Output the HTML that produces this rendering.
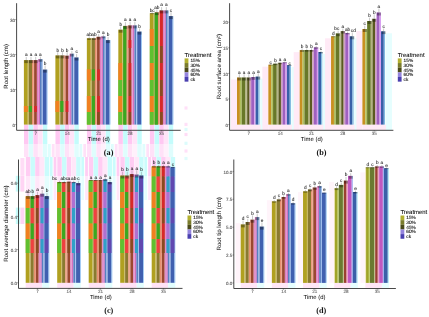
<!DOCTYPE html>
<html><head><meta charset="utf-8"><style>
html,body{margin:0;padding:0;background:#fff;width:429px;height:317px;overflow:hidden}
svg{display:block;filter:blur(0.35px)}
text{font-family:"Liberation Sans", sans-serif;text-rendering:geometricPrecision}
</style></head><body>
<svg width="429" height="317" viewBox="0 0 429 317">
<rect width="429" height="317" fill="#fff"/>
<rect x="24" y="124.6" width="4.42" height="19.4" fill="#ffc8f2" fill-opacity="1.0"/>
<rect x="28.72" y="124.6" width="4.42" height="19.4" fill="#c4fcfc" fill-opacity="1.0"/>
<rect x="33.44" y="124.6" width="4.42" height="19.4" fill="#ffc8f2" fill-opacity="1.0"/>
<rect x="38.16" y="124.6" width="4.42" height="19.4" fill="#ffe4f8" fill-opacity="1.0"/>
<rect x="42.88" y="124.6" width="4.42" height="19.4" fill="#c4fcfc" fill-opacity="1.0"/>
<rect x="55.48" y="124.6" width="4.42" height="19.4" fill="#ffc8f2" fill-opacity="1.0"/>
<rect x="60.2" y="124.6" width="4.42" height="19.4" fill="#c4fcfc" fill-opacity="1.0"/>
<rect x="64.91" y="124.6" width="4.42" height="19.4" fill="#ffc8f2" fill-opacity="1.0"/>
<rect x="69.63" y="124.6" width="4.42" height="19.4" fill="#ffe4f8" fill-opacity="1.0"/>
<rect x="74.35" y="124.6" width="4.42" height="19.4" fill="#c4fcfc" fill-opacity="1.0"/>
<rect x="86.95" y="124.6" width="4.42" height="19.4" fill="#ffc8f2" fill-opacity="1.0"/>
<rect x="91.67" y="124.6" width="4.42" height="19.4" fill="#c4fcfc" fill-opacity="1.0"/>
<rect x="96.39" y="124.6" width="4.42" height="19.4" fill="#ffc8f2" fill-opacity="1.0"/>
<rect x="101.11" y="124.6" width="4.42" height="19.4" fill="#ffe4f8" fill-opacity="1.0"/>
<rect x="105.83" y="124.6" width="4.42" height="19.4" fill="#c4fcfc" fill-opacity="1.0"/>
<rect x="118.43" y="124.6" width="4.42" height="19.4" fill="#ffc8f2" fill-opacity="1.0"/>
<rect x="123.15" y="124.6" width="4.42" height="19.4" fill="#c4fcfc" fill-opacity="1.0"/>
<rect x="127.87" y="124.6" width="4.42" height="19.4" fill="#ffc8f2" fill-opacity="1.0"/>
<rect x="132.59" y="124.6" width="4.42" height="19.4" fill="#ffe4f8" fill-opacity="1.0"/>
<rect x="137.31" y="124.6" width="4.42" height="19.4" fill="#c4fcfc" fill-opacity="1.0"/>
<rect x="149.9" y="124.6" width="4.42" height="19.4" fill="#ffc8f2" fill-opacity="1.0"/>
<rect x="154.62" y="124.6" width="4.42" height="19.4" fill="#c4fcfc" fill-opacity="1.0"/>
<rect x="159.34" y="124.6" width="4.42" height="19.4" fill="#ffc8f2" fill-opacity="1.0"/>
<rect x="164.06" y="124.6" width="4.42" height="19.4" fill="#ffe4f8" fill-opacity="1.0"/>
<rect x="168.78" y="124.6" width="4.42" height="19.4" fill="#c4fcfc" fill-opacity="1.0"/>
<rect x="24" y="144" width="4.42" height="13" fill="#ffc8f2" fill-opacity="0.55"/>
<rect x="28.72" y="144" width="4.42" height="13" fill="#c4fcfc" fill-opacity="0.55"/>
<rect x="33.44" y="144" width="4.42" height="13" fill="#ffc8f2" fill-opacity="0.55"/>
<rect x="38.16" y="144" width="4.42" height="13" fill="#ffe4f8" fill-opacity="0.55"/>
<rect x="42.88" y="144" width="4.42" height="13" fill="#c4fcfc" fill-opacity="0.55"/>
<rect x="48" y="144" width="2.76" height="13" fill="#c4fcfc" fill-opacity="0.55"/>
<rect x="51.83" y="144" width="2.76" height="13" fill="#ffc8f2" fill-opacity="0.55"/>
<rect x="55.48" y="144" width="4.42" height="13" fill="#ffc8f2" fill-opacity="0.55"/>
<rect x="60.2" y="144" width="4.42" height="13" fill="#c4fcfc" fill-opacity="0.55"/>
<rect x="64.91" y="144" width="4.42" height="13" fill="#ffc8f2" fill-opacity="0.55"/>
<rect x="69.63" y="144" width="4.42" height="13" fill="#ffe4f8" fill-opacity="0.55"/>
<rect x="74.35" y="144" width="4.42" height="13" fill="#c4fcfc" fill-opacity="0.55"/>
<rect x="79.47" y="144" width="2.76" height="13" fill="#c4fcfc" fill-opacity="0.55"/>
<rect x="83.31" y="144" width="2.76" height="13" fill="#ffc8f2" fill-opacity="0.55"/>
<rect x="86.95" y="144" width="4.42" height="13" fill="#ffc8f2" fill-opacity="0.55"/>
<rect x="91.67" y="144" width="4.42" height="13" fill="#c4fcfc" fill-opacity="0.55"/>
<rect x="96.39" y="144" width="4.42" height="13" fill="#ffc8f2" fill-opacity="0.55"/>
<rect x="101.11" y="144" width="4.42" height="13" fill="#ffe4f8" fill-opacity="0.55"/>
<rect x="105.83" y="144" width="4.42" height="13" fill="#c4fcfc" fill-opacity="0.55"/>
<rect x="110.95" y="144" width="2.76" height="13" fill="#c4fcfc" fill-opacity="0.55"/>
<rect x="114.78" y="144" width="2.76" height="13" fill="#ffc8f2" fill-opacity="0.55"/>
<rect x="118.43" y="144" width="4.42" height="13" fill="#ffc8f2" fill-opacity="0.55"/>
<rect x="123.15" y="144" width="4.42" height="13" fill="#c4fcfc" fill-opacity="0.55"/>
<rect x="127.87" y="144" width="4.42" height="13" fill="#ffc8f2" fill-opacity="0.55"/>
<rect x="132.59" y="144" width="4.42" height="13" fill="#ffe4f8" fill-opacity="0.55"/>
<rect x="137.31" y="144" width="4.42" height="13" fill="#c4fcfc" fill-opacity="0.55"/>
<rect x="142.43" y="144" width="2.76" height="13" fill="#c4fcfc" fill-opacity="0.55"/>
<rect x="146.26" y="144" width="2.76" height="13" fill="#ffc8f2" fill-opacity="0.55"/>
<rect x="149.9" y="144" width="4.42" height="13" fill="#ffc8f2" fill-opacity="0.55"/>
<rect x="154.62" y="144" width="4.42" height="13" fill="#c4fcfc" fill-opacity="0.55"/>
<rect x="159.34" y="144" width="4.42" height="13" fill="#ffc8f2" fill-opacity="0.55"/>
<rect x="164.06" y="144" width="4.42" height="13" fill="#ffe4f8" fill-opacity="0.55"/>
<rect x="168.78" y="144" width="4.42" height="13" fill="#c4fcfc" fill-opacity="0.55"/>
<rect x="25.8" y="157" width="4.42" height="19" fill="#ffc8f2" fill-opacity="0.9"/>
<rect x="30.52" y="157" width="4.42" height="19" fill="#c4fcfc" fill-opacity="0.9"/>
<rect x="35.24" y="157" width="4.42" height="19" fill="#ffc8f2" fill-opacity="0.9"/>
<rect x="39.96" y="157" width="4.42" height="19" fill="#ffe4f8" fill-opacity="0.9"/>
<rect x="44.68" y="157" width="4.42" height="19" fill="#c4fcfc" fill-opacity="0.9"/>
<rect x="49.8" y="157" width="2.77" height="19" fill="#c4fcfc" fill-opacity="0.9"/>
<rect x="53.64" y="157" width="2.77" height="19" fill="#ffc8f2" fill-opacity="0.9"/>
<rect x="57.3" y="157" width="4.42" height="19" fill="#ffc8f2" fill-opacity="0.9"/>
<rect x="62.02" y="157" width="4.42" height="19" fill="#c4fcfc" fill-opacity="0.9"/>
<rect x="66.74" y="157" width="4.42" height="19" fill="#ffc8f2" fill-opacity="0.9"/>
<rect x="71.46" y="157" width="4.42" height="19" fill="#ffe4f8" fill-opacity="0.9"/>
<rect x="76.18" y="157" width="4.42" height="19" fill="#c4fcfc" fill-opacity="0.9"/>
<rect x="81.3" y="157" width="2.77" height="19" fill="#c4fcfc" fill-opacity="0.9"/>
<rect x="85.14" y="157" width="2.77" height="19" fill="#ffc8f2" fill-opacity="0.9"/>
<rect x="88.8" y="157" width="4.42" height="19" fill="#ffc8f2" fill-opacity="0.9"/>
<rect x="93.52" y="157" width="4.42" height="19" fill="#c4fcfc" fill-opacity="0.9"/>
<rect x="98.24" y="157" width="4.42" height="19" fill="#ffc8f2" fill-opacity="0.9"/>
<rect x="102.96" y="157" width="4.42" height="19" fill="#ffe4f8" fill-opacity="0.9"/>
<rect x="107.68" y="157" width="4.42" height="19" fill="#c4fcfc" fill-opacity="0.9"/>
<rect x="112.8" y="157" width="2.77" height="19" fill="#c4fcfc" fill-opacity="0.9"/>
<rect x="116.64" y="157" width="2.77" height="19" fill="#ffc8f2" fill-opacity="0.9"/>
<rect x="120.3" y="157" width="4.42" height="19" fill="#ffc8f2" fill-opacity="0.9"/>
<rect x="125.02" y="157" width="4.42" height="19" fill="#c4fcfc" fill-opacity="0.9"/>
<rect x="129.74" y="157" width="4.42" height="19" fill="#ffc8f2" fill-opacity="0.9"/>
<rect x="134.46" y="157" width="4.42" height="19" fill="#ffe4f8" fill-opacity="0.9"/>
<rect x="139.18" y="157" width="4.42" height="19" fill="#c4fcfc" fill-opacity="0.9"/>
<rect x="144.3" y="157" width="2.77" height="19" fill="#c4fcfc" fill-opacity="0.9"/>
<rect x="148.15" y="157" width="2.77" height="19" fill="#ffc8f2" fill-opacity="0.9"/>
<rect x="151.8" y="157" width="4.42" height="19" fill="#ffc8f2" fill-opacity="0.9"/>
<rect x="156.52" y="157" width="4.42" height="19" fill="#c4fcfc" fill-opacity="0.9"/>
<rect x="161.24" y="157" width="4.42" height="19" fill="#ffc8f2" fill-opacity="0.9"/>
<rect x="165.96" y="157" width="4.42" height="19" fill="#ffe4f8" fill-opacity="0.9"/>
<rect x="170.68" y="157" width="4.42" height="19" fill="#c4fcfc" fill-opacity="0.9"/>
<rect x="25.8" y="176" width="4.42" height="24" fill="#ffc8f2" fill-opacity="0.45"/>
<rect x="30.52" y="176" width="4.42" height="24" fill="#c4fcfc" fill-opacity="0.45"/>
<rect x="35.24" y="176" width="4.42" height="24" fill="#ffc8f2" fill-opacity="0.45"/>
<rect x="39.96" y="176" width="4.42" height="24" fill="#ffe4f8" fill-opacity="0.45"/>
<rect x="44.68" y="176" width="4.42" height="24" fill="#c4fcfc" fill-opacity="0.45"/>
<rect x="49.8" y="176" width="2.77" height="24" fill="#c4fcfc" fill-opacity="0.45"/>
<rect x="53.64" y="176" width="2.77" height="24" fill="#ffc8f2" fill-opacity="0.45"/>
<rect x="57.3" y="176" width="4.42" height="24" fill="#ffc8f2" fill-opacity="0.45"/>
<rect x="62.02" y="176" width="4.42" height="24" fill="#c4fcfc" fill-opacity="0.45"/>
<rect x="66.74" y="176" width="4.42" height="24" fill="#ffc8f2" fill-opacity="0.45"/>
<rect x="71.46" y="176" width="4.42" height="24" fill="#ffe4f8" fill-opacity="0.45"/>
<rect x="76.18" y="176" width="4.42" height="24" fill="#c4fcfc" fill-opacity="0.45"/>
<rect x="81.3" y="176" width="2.77" height="24" fill="#c4fcfc" fill-opacity="0.45"/>
<rect x="85.14" y="176" width="2.77" height="24" fill="#ffc8f2" fill-opacity="0.45"/>
<rect x="88.8" y="176" width="4.42" height="24" fill="#ffc8f2" fill-opacity="0.45"/>
<rect x="93.52" y="176" width="4.42" height="24" fill="#c4fcfc" fill-opacity="0.45"/>
<rect x="98.24" y="176" width="4.42" height="24" fill="#ffc8f2" fill-opacity="0.45"/>
<rect x="102.96" y="176" width="4.42" height="24" fill="#ffe4f8" fill-opacity="0.45"/>
<rect x="107.68" y="176" width="4.42" height="24" fill="#c4fcfc" fill-opacity="0.45"/>
<rect x="112.8" y="176" width="2.77" height="24" fill="#c4fcfc" fill-opacity="0.45"/>
<rect x="116.64" y="176" width="2.77" height="24" fill="#ffc8f2" fill-opacity="0.45"/>
<rect x="120.3" y="176" width="4.42" height="24" fill="#ffc8f2" fill-opacity="0.45"/>
<rect x="125.02" y="176" width="4.42" height="24" fill="#c4fcfc" fill-opacity="0.45"/>
<rect x="129.74" y="176" width="4.42" height="24" fill="#ffc8f2" fill-opacity="0.45"/>
<rect x="134.46" y="176" width="4.42" height="24" fill="#ffe4f8" fill-opacity="0.45"/>
<rect x="139.18" y="176" width="4.42" height="24" fill="#c4fcfc" fill-opacity="0.45"/>
<rect x="144.3" y="176" width="2.77" height="24" fill="#c4fcfc" fill-opacity="0.45"/>
<rect x="148.15" y="176" width="2.77" height="24" fill="#ffc8f2" fill-opacity="0.45"/>
<rect x="151.8" y="176" width="4.42" height="24" fill="#ffc8f2" fill-opacity="0.45"/>
<rect x="156.52" y="176" width="4.42" height="24" fill="#c4fcfc" fill-opacity="0.45"/>
<rect x="161.24" y="176" width="4.42" height="24" fill="#ffc8f2" fill-opacity="0.45"/>
<rect x="165.96" y="176" width="4.42" height="24" fill="#ffe4f8" fill-opacity="0.45"/>
<rect x="170.68" y="176" width="4.42" height="24" fill="#c4fcfc" fill-opacity="0.45"/>
<rect x="231" y="79.5" width="6" height="50.5" fill="#ffeaf6"/>
<rect x="260.1" y="78.6" width="6.5" height="51.4" fill="#e6fefe"/>
<rect x="237" y="124.6" width="23.6" height="5.4" fill="#ffeaf6"/>
<rect x="262.35" y="66.7" width="6" height="63.3" fill="#ffeaf6"/>
<rect x="291.45" y="67.1" width="6.5" height="62.9" fill="#e6fefe"/>
<rect x="268.35" y="124.6" width="23.6" height="5.4" fill="#ffeaf6"/>
<rect x="293.7" y="52.1" width="6" height="77.9" fill="#ffeaf6"/>
<rect x="322.8" y="54" width="6.5" height="76" fill="#e6fefe"/>
<rect x="299.7" y="124.6" width="23.6" height="5.4" fill="#ffeaf6"/>
<rect x="325.05" y="38.3" width="6" height="91.7" fill="#ffeaf6"/>
<rect x="354.15" y="38.3" width="6.5" height="91.7" fill="#e6fefe"/>
<rect x="331.05" y="124.6" width="23.6" height="5.4" fill="#ffeaf6"/>
<rect x="356.4" y="31" width="6" height="99" fill="#ffeaf6"/>
<rect x="385.5" y="33.3" width="6.5" height="96.7" fill="#e6fefe"/>
<rect x="362.4" y="124.6" width="23.6" height="5.4" fill="#ffeaf6"/>
<rect x="25.7" y="282.8" width="16.52" height="5" fill="#ffe2f6"/>
<rect x="42.22" y="282.8" width="7.08" height="5" fill="#e2fefe"/>
<rect x="57.2" y="282.8" width="16.52" height="5" fill="#ffe2f6"/>
<rect x="73.72" y="282.8" width="7.08" height="5" fill="#e2fefe"/>
<rect x="88.7" y="282.8" width="16.52" height="5" fill="#ffe2f6"/>
<rect x="105.22" y="282.8" width="7.08" height="5" fill="#e2fefe"/>
<rect x="120.2" y="282.8" width="16.52" height="5" fill="#ffe2f6"/>
<rect x="136.72" y="282.8" width="7.08" height="5" fill="#e2fefe"/>
<rect x="151.7" y="282.8" width="16.52" height="5" fill="#ffe2f6"/>
<rect x="168.22" y="282.8" width="7.08" height="5" fill="#e2fefe"/>
<rect x="240.7" y="282.9" width="16.52" height="5" fill="#ffe6f6"/>
<rect x="257.22" y="282.9" width="7.08" height="5" fill="#e6fefe"/>
<rect x="235.7" y="223.1" width="5" height="59.8" fill="#fff4fa"/>
<rect x="271.87" y="282.9" width="16.52" height="5" fill="#ffe6f6"/>
<rect x="288.39" y="282.9" width="7.08" height="5" fill="#e6fefe"/>
<rect x="266.87" y="200.2" width="5" height="82.7" fill="#fff4fa"/>
<rect x="303.04" y="282.9" width="16.52" height="5" fill="#ffe6f6"/>
<rect x="319.56" y="282.9" width="7.08" height="5" fill="#e6fefe"/>
<rect x="298.04" y="192.1" width="5" height="90.8" fill="#fff4fa"/>
<rect x="334.21" y="282.9" width="16.52" height="5" fill="#ffe6f6"/>
<rect x="350.73" y="282.9" width="7.08" height="5" fill="#e6fefe"/>
<rect x="329.21" y="181.9" width="5" height="101" fill="#fff4fa"/>
<rect x="365.38" y="282.9" width="16.52" height="5" fill="#ffe6f6"/>
<rect x="381.9" y="282.9" width="7.08" height="5" fill="#e6fefe"/>
<rect x="360.38" y="172.4" width="5" height="110.5" fill="#fff4fa"/>
<rect x="184.5" y="106.4" width="3" height="3.2" fill="#ffe0f8"/>
<rect x="184.5" y="122.8" width="3" height="3.2" fill="#ffe0f8"/>
<rect x="184.5" y="127.9" width="3" height="3.2" fill="#dcfcfc"/>
<rect x="184.5" y="132.9" width="3" height="3.2" fill="#ffdcf6"/>
<rect x="184.5" y="141.7" width="3" height="3.2" fill="#dcfcfc"/>
<rect x="184.5" y="149.4" width="3" height="3.2" fill="#ffe0f8"/>
<rect x="184.5" y="156.9" width="3" height="3.2" fill="#e0fcfc"/>
<rect x="15.8" y="175.8" width="4.4" height="15.8" fill="#c8fcfa"/>
<rect x="20.4" y="175.8" width="4" height="15.8" fill="#ffd4f4"/>
<rect x="15.8" y="207.6" width="4.4" height="16.4" fill="#c8fcfa"/>
<rect x="20.4" y="207.6" width="4" height="16.4" fill="#ffd4f4"/>
<rect x="20.4" y="158" width="4" height="17.8" fill="#ffdcf6"/>
<rect x="23.9" y="60.1" width="3.9" height="64.5" fill="#b0a020"/>
<rect x="27.8" y="60.1" width="1" height="64.5" fill="#c8b860"/>
<rect x="23.9" y="106" width="3.9" height="6" fill="#f08020"/>
<rect x="24.3" y="60.1" width="3.92" height="3" fill="#000" fill-opacity="0.35"/>
<path d="M26.26 56.9V60.1" stroke="#888" stroke-width="0.45" fill="none"/>
<text x="26.26" y="56.2" font-size="4.7" text-anchor="middle" fill="#2a2a2a" stroke="#2a2a2a" stroke-width="0.1">a</text>
<rect x="28.8" y="60.1" width="3.2" height="64.5" fill="#8a7a30"/>
<rect x="32" y="60.1" width="1.34" height="64.5" fill="#e89070"/>
<rect x="28.8" y="106" width="3.2" height="6" fill="#3aa820"/>
<rect x="29.02" y="60.1" width="3.92" height="3" fill="#000" fill-opacity="0.35"/>
<path d="M30.98 56.9V60.1" stroke="#888" stroke-width="0.45" fill="none"/>
<text x="30.98" y="56.2" font-size="4.7" text-anchor="middle" fill="#2a2a2a" stroke="#2a2a2a" stroke-width="0.1">a</text>
<rect x="33.34" y="60.1" width="0.76" height="64.5" fill="#e89070"/>
<rect x="34.1" y="60.1" width="2.8" height="64.5" fill="#9a4830"/>
<rect x="36.9" y="60.1" width="1.16" height="64.5" fill="#e080c0"/>
<rect x="34.1" y="106" width="2.8" height="6" fill="#d82828"/>
<rect x="33.74" y="60.1" width="3.92" height="3" fill="#000" fill-opacity="0.35"/>
<path d="M35.7 56.9V60.1" stroke="#888" stroke-width="0.45" fill="none"/>
<text x="35.7" y="56.2" font-size="4.7" text-anchor="middle" fill="#2a2a2a" stroke="#2a2a2a" stroke-width="0.1">a</text>
<rect x="38.06" y="59.2" width="0.54" height="65.4" fill="#e080c0"/>
<rect x="38.6" y="59.2" width="1.4" height="65.4" fill="#d070c0"/>
<rect x="40" y="59.2" width="1.8" height="65.4" fill="#5880c0"/>
<rect x="41.8" y="59.2" width="0.98" height="65.4" fill="#a0c0f0"/>
<rect x="38.46" y="59.2" width="3.92" height="2.5" fill="#000" fill-opacity="0.35"/>
<path d="M40.42 56.7V59.2" stroke="#888" stroke-width="0.45" fill="none"/>
<text x="40.42" y="56" font-size="4.7" text-anchor="middle" fill="#2a2a2a" stroke="#2a2a2a" stroke-width="0.1">a</text>
<rect x="42.78" y="69.6" width="3.92" height="55" fill="#4060b0"/>
<rect x="46.7" y="69.6" width="0.8" height="55" fill="#90c0f0"/>
<rect x="43.18" y="69.6" width="3.92" height="3" fill="#000" fill-opacity="0.35"/>
<path d="M45.14 65.4V69.6" stroke="#888" stroke-width="0.45" fill="none"/>
<text x="45.14" y="64.7" font-size="4.7" text-anchor="middle" fill="#2a2a2a" stroke="#2a2a2a" stroke-width="0.1">b</text>
<rect x="55.38" y="55.4" width="3.9" height="69.2" fill="#b0a020"/>
<rect x="59.27" y="55.4" width="1" height="69.2" fill="#c8b860"/>
<rect x="55.38" y="101" width="3.9" height="11" fill="#f08020"/>
<rect x="55.77" y="55.4" width="3.92" height="3" fill="#000" fill-opacity="0.35"/>
<path d="M57.73 52.2V55.4" stroke="#888" stroke-width="0.45" fill="none"/>
<text x="57.73" y="51.5" font-size="4.7" text-anchor="middle" fill="#2a2a2a" stroke="#2a2a2a" stroke-width="0.1">b</text>
<rect x="60.27" y="55.4" width="3.2" height="69.2" fill="#8a7a30"/>
<rect x="63.48" y="55.4" width="1.34" height="69.2" fill="#e89070"/>
<rect x="60.27" y="101" width="3.2" height="11" fill="#3aa820"/>
<rect x="60.49" y="55.4" width="3.92" height="3" fill="#000" fill-opacity="0.35"/>
<path d="M62.45 52.2V55.4" stroke="#888" stroke-width="0.45" fill="none"/>
<text x="62.45" y="51.5" font-size="4.7" text-anchor="middle" fill="#2a2a2a" stroke="#2a2a2a" stroke-width="0.1">b</text>
<rect x="64.81" y="55.7" width="0.76" height="68.9" fill="#e89070"/>
<rect x="65.58" y="55.7" width="2.8" height="68.9" fill="#9a4830"/>
<rect x="68.38" y="55.7" width="1.16" height="68.9" fill="#e080c0"/>
<rect x="65.58" y="101" width="2.8" height="11" fill="#d82828"/>
<rect x="65.22" y="55.7" width="3.92" height="3" fill="#000" fill-opacity="0.35"/>
<path d="M67.17 52.2V55.7" stroke="#888" stroke-width="0.45" fill="none"/>
<text x="67.17" y="51.5" font-size="4.7" text-anchor="middle" fill="#2a2a2a" stroke="#2a2a2a" stroke-width="0.1">b</text>
<rect x="69.53" y="53.7" width="0.54" height="70.9" fill="#e080c0"/>
<rect x="70.08" y="53.7" width="1.4" height="70.9" fill="#d070c0"/>
<rect x="71.47" y="53.7" width="1.8" height="70.9" fill="#5880c0"/>
<rect x="73.28" y="53.7" width="0.98" height="70.9" fill="#a0c0f0"/>
<rect x="69.94" y="53.7" width="3.92" height="2.8" fill="#000" fill-opacity="0.35"/>
<path d="M71.89 50.9V53.7" stroke="#888" stroke-width="0.45" fill="none"/>
<text x="71.89" y="50.2" font-size="4.7" text-anchor="middle" fill="#2a2a2a" stroke="#2a2a2a" stroke-width="0.1">a</text>
<rect x="74.25" y="57.5" width="3.92" height="67.1" fill="#4060b0"/>
<rect x="78.17" y="57.5" width="0.8" height="67.1" fill="#90c0f0"/>
<rect x="74.66" y="57.5" width="3.92" height="3" fill="#000" fill-opacity="0.35"/>
<path d="M76.61 53.9V57.5" stroke="#888" stroke-width="0.45" fill="none"/>
<text x="76.61" y="53.2" font-size="4.7" text-anchor="middle" fill="#2a2a2a" stroke="#2a2a2a" stroke-width="0.1">c</text>
<rect x="86.85" y="38.2" width="3.9" height="86.4" fill="#b0a020"/>
<rect x="90.75" y="38.2" width="1" height="86.4" fill="#c8b860"/>
<rect x="86.85" y="69.3" width="3.9" height="11.2" fill="#f08020"/>
<rect x="86.85" y="96" width="3.9" height="16" fill="#f08020"/>
<rect x="86.85" y="112" width="3.9" height="12.6" fill="#60c030"/>
<rect x="87.25" y="38.2" width="3.92" height="1.8" fill="#000" fill-opacity="0.35"/>
<path d="M89.21 36.4V38.2" stroke="#888" stroke-width="0.45" fill="none"/>
<text x="89.21" y="35.7" font-size="4.7" text-anchor="middle" fill="#2a2a2a" stroke="#2a2a2a" stroke-width="0.1">ab</text>
<rect x="91.75" y="38.2" width="3.2" height="86.4" fill="#8a7a30"/>
<rect x="94.95" y="38.2" width="1.34" height="86.4" fill="#e89070"/>
<rect x="91.75" y="69.3" width="3.2" height="11.2" fill="#3aa820"/>
<rect x="91.75" y="96" width="3.2" height="16" fill="#3aa820"/>
<rect x="91.75" y="112" width="3.2" height="12.6" fill="#3aa820"/>
<rect x="91.97" y="38.2" width="3.92" height="1.8" fill="#000" fill-opacity="0.35"/>
<path d="M93.93 36.4V38.2" stroke="#888" stroke-width="0.45" fill="none"/>
<text x="93.93" y="35.7" font-size="4.7" text-anchor="middle" fill="#2a2a2a" stroke="#2a2a2a" stroke-width="0.1">ab</text>
<rect x="96.29" y="36.8" width="0.76" height="87.8" fill="#e89070"/>
<rect x="97.05" y="36.8" width="2.8" height="87.8" fill="#9a4830"/>
<rect x="99.85" y="36.8" width="1.16" height="87.8" fill="#e080c0"/>
<rect x="97.05" y="69.3" width="2.8" height="11.2" fill="#d82828"/>
<rect x="97.05" y="96" width="2.8" height="16" fill="#d82828"/>
<rect x="97.05" y="112" width="2.8" height="12.6" fill="#8a4a20"/>
<rect x="96.69" y="36.8" width="3.92" height="2.8" fill="#000" fill-opacity="0.35"/>
<path d="M98.65 34V36.8" stroke="#888" stroke-width="0.45" fill="none"/>
<text x="98.65" y="33.3" font-size="4.7" text-anchor="middle" fill="#2a2a2a" stroke="#2a2a2a" stroke-width="0.1">a</text>
<rect x="101.01" y="36.4" width="0.54" height="88.2" fill="#e080c0"/>
<rect x="101.55" y="36.4" width="1.4" height="88.2" fill="#d070c0"/>
<rect x="102.95" y="36.4" width="1.8" height="88.2" fill="#5880c0"/>
<rect x="104.75" y="36.4" width="0.98" height="88.2" fill="#a0c0f0"/>
<rect x="101.41" y="36.4" width="3.92" height="1.9" fill="#000" fill-opacity="0.35"/>
<path d="M103.37 34.5V36.4" stroke="#888" stroke-width="0.45" fill="none"/>
<text x="103.37" y="33.8" font-size="4.7" text-anchor="middle" fill="#2a2a2a" stroke="#2a2a2a" stroke-width="0.1">a</text>
<rect x="105.73" y="40.1" width="3.92" height="84.5" fill="#4060b0"/>
<rect x="109.65" y="40.1" width="0.8" height="84.5" fill="#90c0f0"/>
<rect x="106.13" y="40.1" width="3.92" height="3" fill="#000" fill-opacity="0.35"/>
<path d="M108.09 36.9V40.1" stroke="#888" stroke-width="0.45" fill="none"/>
<text x="108.09" y="36.2" font-size="4.7" text-anchor="middle" fill="#2a2a2a" stroke="#2a2a2a" stroke-width="0.1">b</text>
<rect x="118.33" y="29.7" width="3.9" height="94.9" fill="#b0a020"/>
<rect x="122.23" y="29.7" width="1" height="94.9" fill="#c8b860"/>
<rect x="118.33" y="63" width="3.9" height="17" fill="#f08020"/>
<rect x="118.33" y="80" width="3.9" height="16" fill="#60c030"/>
<rect x="118.33" y="96" width="3.9" height="16" fill="#f08020"/>
<rect x="118.33" y="112" width="3.9" height="12.6" fill="#60c030"/>
<rect x="118.73" y="29.7" width="3.92" height="3" fill="#000" fill-opacity="0.35"/>
<path d="M120.69 26.4V29.7" stroke="#888" stroke-width="0.45" fill="none"/>
<text x="120.69" y="25.7" font-size="4.7" text-anchor="middle" fill="#2a2a2a" stroke="#2a2a2a" stroke-width="0.1">b</text>
<rect x="123.23" y="25.9" width="3.2" height="98.7" fill="#8a7a30"/>
<rect x="126.43" y="25.9" width="1.34" height="98.7" fill="#e89070"/>
<rect x="123.23" y="26.4" width="3.2" height="13.6" fill="#3aa820"/>
<rect x="123.23" y="40" width="3.2" height="8" fill="#3aa820"/>
<rect x="123.23" y="48" width="3.2" height="15" fill="#3aa820"/>
<rect x="123.23" y="63" width="3.2" height="17" fill="#3aa820"/>
<rect x="123.23" y="80" width="3.2" height="16" fill="#3aa820"/>
<rect x="123.23" y="96" width="3.2" height="16" fill="#3aa820"/>
<rect x="123.23" y="112" width="3.2" height="12.6" fill="#3aa820"/>
<rect x="123.45" y="25.9" width="3.92" height="3" fill="#000" fill-opacity="0.35"/>
<path d="M125.41 22.1V25.9" stroke="#888" stroke-width="0.45" fill="none"/>
<text x="125.41" y="21.4" font-size="4.7" text-anchor="middle" fill="#2a2a2a" stroke="#2a2a2a" stroke-width="0.1">a</text>
<rect x="127.77" y="25.4" width="0.76" height="99.2" fill="#e89070"/>
<rect x="128.53" y="25.4" width="2.8" height="99.2" fill="#9a4830"/>
<rect x="131.33" y="25.4" width="1.16" height="99.2" fill="#e080c0"/>
<rect x="128.53" y="40" width="2.8" height="8" fill="#d82828"/>
<rect x="128.53" y="63" width="2.8" height="17" fill="#d82828"/>
<rect x="128.53" y="80" width="2.8" height="16" fill="#8a4a20"/>
<rect x="128.53" y="96" width="2.8" height="16" fill="#d82828"/>
<rect x="128.53" y="112" width="2.8" height="12.6" fill="#8a4a20"/>
<rect x="128.17" y="25.4" width="3.92" height="3" fill="#000" fill-opacity="0.35"/>
<path d="M130.13 21.7V25.4" stroke="#888" stroke-width="0.45" fill="none"/>
<text x="130.13" y="21" font-size="4.7" text-anchor="middle" fill="#2a2a2a" stroke="#2a2a2a" stroke-width="0.1">a</text>
<rect x="132.49" y="25.4" width="0.54" height="99.2" fill="#e080c0"/>
<rect x="133.03" y="25.4" width="1.4" height="99.2" fill="#d070c0"/>
<rect x="134.43" y="25.4" width="1.8" height="99.2" fill="#5880c0"/>
<rect x="136.23" y="25.4" width="0.98" height="99.2" fill="#a0c0f0"/>
<rect x="132.89" y="25.4" width="3.92" height="3" fill="#000" fill-opacity="0.35"/>
<path d="M134.85 21.7V25.4" stroke="#888" stroke-width="0.45" fill="none"/>
<text x="134.85" y="21" font-size="4.7" text-anchor="middle" fill="#2a2a2a" stroke="#2a2a2a" stroke-width="0.1">a</text>
<rect x="137.21" y="31.6" width="3.92" height="93" fill="#4060b0"/>
<rect x="141.13" y="31.6" width="0.8" height="93" fill="#90c0f0"/>
<rect x="137.61" y="31.6" width="3.92" height="3" fill="#000" fill-opacity="0.35"/>
<path d="M139.57 28.3V31.6" stroke="#888" stroke-width="0.45" fill="none"/>
<text x="139.57" y="27.6" font-size="4.7" text-anchor="middle" fill="#2a2a2a" stroke="#2a2a2a" stroke-width="0.1">b</text>
<rect x="149.8" y="13.2" width="3.9" height="111.4" fill="#b0a020"/>
<rect x="153.7" y="13.2" width="1" height="111.4" fill="#c8b860"/>
<rect x="149.8" y="29" width="3.9" height="17" fill="#f08020"/>
<rect x="149.8" y="46" width="3.9" height="17" fill="#60c030"/>
<rect x="149.8" y="63" width="3.9" height="17" fill="#f08020"/>
<rect x="149.8" y="80" width="3.9" height="16" fill="#60c030"/>
<rect x="149.8" y="96" width="3.9" height="16" fill="#f08020"/>
<rect x="149.8" y="112" width="3.9" height="12.6" fill="#60c030"/>
<rect x="150.2" y="13.2" width="3.92" height="0.9" fill="#000" fill-opacity="0.35"/>
<path d="M152.16 12.3V13.2" stroke="#888" stroke-width="0.45" fill="none"/>
<text x="152.16" y="11.6" font-size="4.7" text-anchor="middle" fill="#2a2a2a" stroke="#2a2a2a" stroke-width="0.1">bc</text>
<rect x="154.7" y="12.3" width="3.2" height="112.3" fill="#8a7a30"/>
<rect x="157.9" y="12.3" width="1.34" height="112.3" fill="#e89070"/>
<rect x="154.7" y="12.8" width="3.2" height="16.2" fill="#3aa820"/>
<rect x="154.7" y="29" width="3.2" height="17" fill="#3aa820"/>
<rect x="154.7" y="46" width="3.2" height="17" fill="#3aa820"/>
<rect x="154.7" y="63" width="3.2" height="17" fill="#3aa820"/>
<rect x="154.7" y="80" width="3.2" height="16" fill="#3aa820"/>
<rect x="154.7" y="96" width="3.2" height="16" fill="#3aa820"/>
<rect x="154.7" y="112" width="3.2" height="12.6" fill="#3aa820"/>
<rect x="154.92" y="12.3" width="3.92" height="2.8" fill="#000" fill-opacity="0.35"/>
<path d="M156.88 9.5V12.3" stroke="#888" stroke-width="0.45" fill="none"/>
<text x="156.88" y="8.8" font-size="4.7" text-anchor="middle" fill="#2a2a2a" stroke="#2a2a2a" stroke-width="0.1">ab</text>
<rect x="159.24" y="10.4" width="0.76" height="114.2" fill="#e89070"/>
<rect x="160" y="10.4" width="2.8" height="114.2" fill="#9a4830"/>
<rect x="162.8" y="10.4" width="1.16" height="114.2" fill="#e080c0"/>
<rect x="160" y="10.9" width="2.8" height="18.1" fill="#d82828"/>
<rect x="160" y="29" width="2.8" height="17" fill="#d82828"/>
<rect x="160" y="46" width="2.8" height="17" fill="#8a4a20"/>
<rect x="160" y="63" width="2.8" height="17" fill="#d82828"/>
<rect x="160" y="80" width="2.8" height="16" fill="#8a4a20"/>
<rect x="160" y="96" width="2.8" height="16" fill="#d82828"/>
<rect x="160" y="112" width="2.8" height="12.6" fill="#8a4a20"/>
<rect x="159.64" y="10.4" width="3.92" height="3" fill="#000" fill-opacity="0.35"/>
<path d="M161.6 7.1V10.4" stroke="#888" stroke-width="0.45" fill="none"/>
<text x="161.6" y="6.4" font-size="4.7" text-anchor="middle" fill="#2a2a2a" stroke="#2a2a2a" stroke-width="0.1">a</text>
<rect x="163.96" y="10.4" width="0.54" height="114.2" fill="#e080c0"/>
<rect x="164.5" y="10.4" width="1.4" height="114.2" fill="#d070c0"/>
<rect x="165.9" y="10.4" width="1.8" height="114.2" fill="#5880c0"/>
<rect x="167.7" y="10.4" width="0.98" height="114.2" fill="#a0c0f0"/>
<rect x="164.36" y="10.4" width="3.92" height="3" fill="#000" fill-opacity="0.35"/>
<path d="M166.32 7.1V10.4" stroke="#888" stroke-width="0.45" fill="none"/>
<text x="166.32" y="6.4" font-size="4.7" text-anchor="middle" fill="#2a2a2a" stroke="#2a2a2a" stroke-width="0.1">a</text>
<rect x="168.68" y="16.1" width="3.92" height="108.5" fill="#4060b0"/>
<rect x="172.6" y="16.1" width="0.8" height="108.5" fill="#90c0f0"/>
<rect x="169.08" y="16.1" width="3.92" height="3" fill="#000" fill-opacity="0.35"/>
<path d="M171.04 12.3V16.1" stroke="#888" stroke-width="0.45" fill="none"/>
<text x="171.04" y="11.6" font-size="4.7" text-anchor="middle" fill="#2a2a2a" stroke="#2a2a2a" stroke-width="0.1">c</text>
<path d="M16.6 3.2V130.3H180.7" stroke="#333" stroke-width="0.9" fill="none"/>
<path d="M15.3 124.6H16.6" stroke="#333" stroke-width="0.5"/>
<text x="15" y="126.8" font-size="4.5" text-anchor="end" fill="#555" stroke="#555" stroke-width="0.1">0</text>
<path d="M15.3 89.6H16.6" stroke="#333" stroke-width="0.5"/>
<text x="15" y="91.8" font-size="4.5" text-anchor="end" fill="#555" stroke="#555" stroke-width="0.1">10</text>
<path d="M15.3 54.6H16.6" stroke="#333" stroke-width="0.5"/>
<text x="15" y="56.8" font-size="4.5" text-anchor="end" fill="#555" stroke="#555" stroke-width="0.1">20</text>
<path d="M15.3 19.6H16.6" stroke="#333" stroke-width="0.5"/>
<text x="15" y="21.8" font-size="4.5" text-anchor="end" fill="#555" stroke="#555" stroke-width="0.1">30</text>
<path d="M35.7 130.3V131.6" stroke="#333" stroke-width="0.5"/>
<text x="35.7" y="135.4" font-size="4.5" text-anchor="middle" fill="#666" stroke="#666" stroke-width="0.08">7</text>
<path d="M67.17 130.3V131.6" stroke="#333" stroke-width="0.5"/>
<text x="67.17" y="135.4" font-size="4.5" text-anchor="middle" fill="#666" stroke="#666" stroke-width="0.08">14</text>
<path d="M98.65 130.3V131.6" stroke="#333" stroke-width="0.5"/>
<text x="98.65" y="135.4" font-size="4.5" text-anchor="middle" fill="#666" stroke="#666" stroke-width="0.08">21</text>
<path d="M130.13 130.3V131.6" stroke="#333" stroke-width="0.5"/>
<text x="130.13" y="135.4" font-size="4.5" text-anchor="middle" fill="#666" stroke="#666" stroke-width="0.08">28</text>
<path d="M161.6 130.3V131.6" stroke="#333" stroke-width="0.5"/>
<text x="161.6" y="135.4" font-size="4.5" text-anchor="middle" fill="#666" stroke="#666" stroke-width="0.08">35</text>
<text x="87.8" y="141" font-size="5.95" fill="#000">Time (d)</text>
<text transform="translate(7.9 66.4) rotate(-90)" x="-22.3" y="0" font-size="6.1" textLength="44.6" lengthAdjust="spacingAndGlyphs" fill="#000">Root length (cm)</text>
<text x="184.5" y="56.7" font-size="5.95" fill="#000" stroke="#000" stroke-width="0.05">Treatment</text>
<rect x="184.6" y="58.4" width="3.8" height="4.65" fill="#b2b030"/>
<text x="190.4" y="62.35" font-size="4.75" fill="#111" stroke="#111" stroke-width="0.1">15%</text>
<rect x="184.6" y="63.05" width="3.8" height="4.65" fill="#7a7c2c"/>
<text x="190.4" y="67" font-size="4.75" fill="#111" stroke="#111" stroke-width="0.1">30%</text>
<rect x="184.6" y="67.7" width="3.8" height="4.65" fill="#4a4a1a"/>
<text x="190.4" y="71.65" font-size="4.75" fill="#111" stroke="#111" stroke-width="0.1">45%</text>
<rect x="184.6" y="72.35" width="3.8" height="4.65" fill="#9585de"/>
<text x="190.4" y="76.3" font-size="4.75" fill="#111" stroke="#111" stroke-width="0.1">60%</text>
<rect x="184.6" y="77" width="3.8" height="4.65" fill="#4a40b0"/>
<text x="190.4" y="80.95" font-size="4.75" fill="#111" stroke="#111" stroke-width="0.1">ck</text>
<text x="108.6" y="155.2" font-size="8.2" font-weight="bold" text-anchor="middle" fill="#111" style="font-family:'Liberation Serif',serif">(a)</text>
<rect x="237" y="77.5" width="2.9" height="47.1" fill="#c89020"/>
<rect x="239.9" y="77.5" width="1.82" height="47.1" fill="#b0c060"/>
<rect x="237.4" y="77.5" width="3.92" height="3" fill="#000" fill-opacity="0.35"/>
<path d="M239.36 74.2V77.5" stroke="#888" stroke-width="0.45" fill="none"/>
<text x="239.36" y="73.5" font-size="4.7" text-anchor="middle" fill="#2a2a2a" stroke="#2a2a2a" stroke-width="0.1">a</text>
<rect x="241.72" y="77.5" width="3.68" height="47.1" fill="#687828"/>
<rect x="245.4" y="77.5" width="1.04" height="47.1" fill="#a8a870"/>
<rect x="242.12" y="77.5" width="3.92" height="3" fill="#000" fill-opacity="0.35"/>
<path d="M244.08 74.2V77.5" stroke="#888" stroke-width="0.45" fill="none"/>
<text x="244.08" y="73.5" font-size="4.7" text-anchor="middle" fill="#2a2a2a" stroke="#2a2a2a" stroke-width="0.1">a</text>
<rect x="246.44" y="77.5" width="0.76" height="47.1" fill="#a8a870"/>
<rect x="247.2" y="77.5" width="2.4" height="47.1" fill="#5a5a20"/>
<rect x="249.6" y="77.5" width="1.56" height="47.1" fill="#d0a0c0"/>
<rect x="246.84" y="77.5" width="3.92" height="3" fill="#000" fill-opacity="0.35"/>
<path d="M248.8 74.2V77.5" stroke="#888" stroke-width="0.45" fill="none"/>
<text x="248.8" y="73.5" font-size="4.7" text-anchor="middle" fill="#2a2a2a" stroke="#2a2a2a" stroke-width="0.1">a</text>
<rect x="251.16" y="77" width="3.04" height="47.6" fill="#a060c0"/>
<rect x="254.2" y="77" width="1.4" height="47.6" fill="#d8a0f0"/>
<rect x="251.56" y="77" width="3.92" height="2.8" fill="#000" fill-opacity="0.35"/>
<path d="M253.52 74.2V77" stroke="#888" stroke-width="0.45" fill="none"/>
<text x="253.52" y="73.5" font-size="4.7" text-anchor="middle" fill="#2a2a2a" stroke="#2a2a2a" stroke-width="0.1">a</text>
<rect x="255.6" y="76.6" width="2.8" height="48" fill="#3860a8"/>
<rect x="258.4" y="76.6" width="1.2" height="48" fill="#80b8e0"/>
<rect x="256.28" y="76.6" width="3.92" height="3" fill="#000" fill-opacity="0.35"/>
<path d="M258.24 73.3V76.6" stroke="#888" stroke-width="0.45" fill="none"/>
<text x="258.24" y="72.6" font-size="4.7" text-anchor="middle" fill="#2a2a2a" stroke="#2a2a2a" stroke-width="0.1">a</text>
<rect x="268.35" y="64.7" width="2.9" height="59.9" fill="#c89020"/>
<rect x="271.25" y="64.7" width="1.82" height="59.9" fill="#b0c060"/>
<rect x="268.75" y="64.7" width="3.92" height="0.8" fill="#000" fill-opacity="0.35"/>
<path d="M270.71 63.9V64.7" stroke="#888" stroke-width="0.45" fill="none"/>
<text x="270.71" y="63.5" font-size="4.7" text-anchor="middle" fill="#2a2a2a" stroke="#2a2a2a" stroke-width="0.1">c</text>
<rect x="273.07" y="63.7" width="3.68" height="60.9" fill="#687828"/>
<rect x="276.75" y="63.7" width="1.04" height="60.9" fill="#a8a870"/>
<rect x="273.47" y="63.7" width="3.92" height="1.4" fill="#000" fill-opacity="0.35"/>
<path d="M275.43 62.3V63.7" stroke="#888" stroke-width="0.45" fill="none"/>
<text x="275.43" y="61.6" font-size="4.7" text-anchor="middle" fill="#2a2a2a" stroke="#2a2a2a" stroke-width="0.1">b</text>
<rect x="277.79" y="62.8" width="0.76" height="61.8" fill="#a8a870"/>
<rect x="278.55" y="62.8" width="2.4" height="61.8" fill="#5a5a20"/>
<rect x="280.95" y="62.8" width="1.56" height="61.8" fill="#d0a0c0"/>
<rect x="278.19" y="62.8" width="3.92" height="1.4" fill="#000" fill-opacity="0.35"/>
<path d="M280.15 61.4V62.8" stroke="#888" stroke-width="0.45" fill="none"/>
<text x="280.15" y="60.7" font-size="4.7" text-anchor="middle" fill="#2a2a2a" stroke="#2a2a2a" stroke-width="0.1">a</text>
<rect x="282.51" y="62.3" width="3.04" height="62.3" fill="#a060c0"/>
<rect x="285.55" y="62.3" width="1.4" height="62.3" fill="#d8a0f0"/>
<rect x="282.91" y="62.3" width="3.92" height="0.9" fill="#000" fill-opacity="0.35"/>
<path d="M284.87 61.4V62.3" stroke="#888" stroke-width="0.45" fill="none"/>
<text x="284.87" y="60.7" font-size="4.7" text-anchor="middle" fill="#2a2a2a" stroke="#2a2a2a" stroke-width="0.1">a</text>
<rect x="286.95" y="65.1" width="2.8" height="59.5" fill="#3860a8"/>
<rect x="289.75" y="65.1" width="1.2" height="59.5" fill="#80b8e0"/>
<rect x="287.63" y="65.1" width="3.92" height="0.8" fill="#000" fill-opacity="0.35"/>
<path d="M289.59 64.3V65.1" stroke="#888" stroke-width="0.45" fill="none"/>
<text x="289.59" y="64.9" font-size="4.7" text-anchor="middle" fill="#2a2a2a" stroke="#2a2a2a" stroke-width="0.1">c</text>
<rect x="299.7" y="50.1" width="2.9" height="74.5" fill="#c89020"/>
<rect x="302.6" y="50.1" width="1.82" height="74.5" fill="#b0c060"/>
<rect x="300.1" y="50.1" width="3.92" height="1.8" fill="#000" fill-opacity="0.35"/>
<path d="M302.06 48.3V50.1" stroke="#888" stroke-width="0.45" fill="none"/>
<text x="302.06" y="47.6" font-size="4.7" text-anchor="middle" fill="#2a2a2a" stroke="#2a2a2a" stroke-width="0.1">b</text>
<rect x="304.42" y="50" width="3.68" height="74.6" fill="#687828"/>
<rect x="308.1" y="50" width="1.04" height="74.6" fill="#a8a870"/>
<rect x="304.82" y="50" width="3.92" height="1.7" fill="#000" fill-opacity="0.35"/>
<path d="M306.78 48.3V50" stroke="#888" stroke-width="0.45" fill="none"/>
<text x="306.78" y="47.6" font-size="4.7" text-anchor="middle" fill="#2a2a2a" stroke="#2a2a2a" stroke-width="0.1">b</text>
<rect x="309.14" y="50" width="0.76" height="74.6" fill="#a8a870"/>
<rect x="309.9" y="50" width="2.4" height="74.6" fill="#5a5a20"/>
<rect x="312.3" y="50" width="1.56" height="74.6" fill="#d0a0c0"/>
<rect x="309.54" y="50" width="3.92" height="1.7" fill="#000" fill-opacity="0.35"/>
<path d="M311.5 48.3V50" stroke="#888" stroke-width="0.45" fill="none"/>
<text x="311.5" y="47.6" font-size="4.7" text-anchor="middle" fill="#2a2a2a" stroke="#2a2a2a" stroke-width="0.1">b</text>
<rect x="313.86" y="47.3" width="3.04" height="77.3" fill="#a060c0"/>
<rect x="316.9" y="47.3" width="1.4" height="77.3" fill="#d8a0f0"/>
<rect x="314.26" y="47.3" width="3.92" height="1.4" fill="#000" fill-opacity="0.35"/>
<path d="M316.22 45.9V47.3" stroke="#888" stroke-width="0.45" fill="none"/>
<text x="316.22" y="45.2" font-size="4.7" text-anchor="middle" fill="#2a2a2a" stroke="#2a2a2a" stroke-width="0.1">a</text>
<rect x="318.3" y="52" width="2.8" height="72.6" fill="#3860a8"/>
<rect x="321.1" y="52" width="1.2" height="72.6" fill="#80b8e0"/>
<rect x="318.98" y="52" width="3.92" height="1.4" fill="#000" fill-opacity="0.35"/>
<path d="M320.94 50.6V52" stroke="#888" stroke-width="0.45" fill="none"/>
<text x="320.94" y="49.9" font-size="4.7" text-anchor="middle" fill="#2a2a2a" stroke="#2a2a2a" stroke-width="0.1">c</text>
<rect x="331.05" y="36.3" width="2.9" height="88.3" fill="#c89020"/>
<rect x="333.95" y="36.3" width="1.82" height="88.3" fill="#b0c060"/>
<rect x="331.45" y="36.3" width="3.92" height="0.9" fill="#000" fill-opacity="0.35"/>
<path d="M333.41 35.4V36.3" stroke="#888" stroke-width="0.45" fill="none"/>
<text x="333.41" y="34.7" font-size="4.7" text-anchor="middle" fill="#2a2a2a" stroke="#2a2a2a" stroke-width="0.1">d</text>
<rect x="335.77" y="33.4" width="3.68" height="91.2" fill="#687828"/>
<rect x="339.45" y="33.4" width="1.04" height="91.2" fill="#a8a870"/>
<rect x="336.17" y="33.4" width="3.92" height="2.8" fill="#000" fill-opacity="0.35"/>
<path d="M338.13 30.6V33.4" stroke="#888" stroke-width="0.45" fill="none"/>
<text x="336.8" y="29.9" font-size="4.7" text-anchor="middle" fill="#2a2a2a" stroke="#2a2a2a" stroke-width="0.1">bc</text>
<rect x="340.49" y="31.1" width="0.76" height="93.5" fill="#a8a870"/>
<rect x="341.25" y="31.1" width="2.4" height="93.5" fill="#5a5a20"/>
<rect x="343.65" y="31.1" width="1.56" height="93.5" fill="#d0a0c0"/>
<rect x="340.89" y="31.1" width="3.92" height="2.5" fill="#000" fill-opacity="0.35"/>
<path d="M342.85 28.6V31.1" stroke="#888" stroke-width="0.45" fill="none"/>
<text x="342.85" y="27.9" font-size="4.7" text-anchor="middle" fill="#2a2a2a" stroke="#2a2a2a" stroke-width="0.1">a</text>
<rect x="345.21" y="33" width="3.04" height="91.6" fill="#a060c0"/>
<rect x="348.25" y="33" width="1.4" height="91.6" fill="#d8a0f0"/>
<rect x="345.61" y="33" width="3.92" height="1.4" fill="#000" fill-opacity="0.35"/>
<path d="M347.57 31.6V33" stroke="#888" stroke-width="0.45" fill="none"/>
<text x="347.57" y="30.9" font-size="4.7" text-anchor="middle" fill="#2a2a2a" stroke="#2a2a2a" stroke-width="0.1">ab</text>
<rect x="349.65" y="36.3" width="2.8" height="88.3" fill="#3860a8"/>
<rect x="352.45" y="36.3" width="1.2" height="88.3" fill="#80b8e0"/>
<rect x="350.33" y="36.3" width="3.92" height="3" fill="#000" fill-opacity="0.35"/>
<path d="M352.29 32.5V36.3" stroke="#888" stroke-width="0.45" fill="none"/>
<text x="353.3" y="31.8" font-size="4.7" text-anchor="middle" fill="#2a2a2a" stroke="#2a2a2a" stroke-width="0.1">cd</text>
<rect x="362.4" y="29" width="2.9" height="95.6" fill="#c89020"/>
<rect x="365.3" y="29" width="1.82" height="95.6" fill="#b0c060"/>
<rect x="362.8" y="29" width="3.92" height="3" fill="#000" fill-opacity="0.35"/>
<path d="M364.76 25.7V29" stroke="#888" stroke-width="0.45" fill="none"/>
<text x="364.76" y="25" font-size="4.7" text-anchor="middle" fill="#2a2a2a" stroke="#2a2a2a" stroke-width="0.1">c</text>
<rect x="367.12" y="21" width="3.68" height="103.6" fill="#687828"/>
<rect x="370.8" y="21" width="1.04" height="103.6" fill="#a8a870"/>
<rect x="367.52" y="21" width="3.92" height="3" fill="#000" fill-opacity="0.35"/>
<path d="M369.48 17.7V21" stroke="#888" stroke-width="0.45" fill="none"/>
<text x="369.48" y="17" font-size="4.7" text-anchor="middle" fill="#2a2a2a" stroke="#2a2a2a" stroke-width="0.1">b</text>
<rect x="371.84" y="18.8" width="0.76" height="105.8" fill="#a8a870"/>
<rect x="372.6" y="18.8" width="2.4" height="105.8" fill="#5a5a20"/>
<rect x="375" y="18.8" width="1.56" height="105.8" fill="#d0a0c0"/>
<rect x="372.24" y="18.8" width="3.92" height="3" fill="#000" fill-opacity="0.35"/>
<path d="M374.2 14.3V18.8" stroke="#888" stroke-width="0.45" fill="none"/>
<text x="374.2" y="13.6" font-size="4.7" text-anchor="middle" fill="#2a2a2a" stroke="#2a2a2a" stroke-width="0.1">b</text>
<rect x="376.56" y="12.5" width="3.04" height="112.1" fill="#a060c0"/>
<rect x="379.6" y="12.5" width="1.4" height="112.1" fill="#d8a0f0"/>
<rect x="376.96" y="12.5" width="3.92" height="3" fill="#000" fill-opacity="0.35"/>
<path d="M378.92 8.65V12.5" stroke="#888" stroke-width="0.45" fill="none"/>
<text x="378.92" y="7.95" font-size="4.7" text-anchor="middle" fill="#2a2a2a" stroke="#2a2a2a" stroke-width="0.1">a</text>
<rect x="381" y="31.3" width="2.8" height="93.3" fill="#3860a8"/>
<rect x="383.8" y="31.3" width="1.2" height="93.3" fill="#80b8e0"/>
<rect x="381.68" y="31.3" width="3.92" height="2.8" fill="#000" fill-opacity="0.35"/>
<path d="M383.64 28.5V31.3" stroke="#888" stroke-width="0.45" fill="none"/>
<text x="383.64" y="27.8" font-size="4.7" text-anchor="middle" fill="#2a2a2a" stroke="#2a2a2a" stroke-width="0.1">c</text>
<path d="M229.6 3.2V130.3H393.4" stroke="#333" stroke-width="0.9" fill="none"/>
<path d="M228.3 124.6H229.6" stroke="#333" stroke-width="0.5"/>
<text x="228" y="126.8" font-size="4.5" text-anchor="end" fill="#555" stroke="#555" stroke-width="0.1">0</text>
<path d="M228.3 99H229.6" stroke="#333" stroke-width="0.5"/>
<text x="228" y="101.2" font-size="4.5" text-anchor="end" fill="#555" stroke="#555" stroke-width="0.1">5</text>
<path d="M228.3 73.4H229.6" stroke="#333" stroke-width="0.5"/>
<text x="228" y="75.6" font-size="4.5" text-anchor="end" fill="#555" stroke="#555" stroke-width="0.1">10</text>
<path d="M228.3 47.8H229.6" stroke="#333" stroke-width="0.5"/>
<text x="228" y="50" font-size="4.5" text-anchor="end" fill="#555" stroke="#555" stroke-width="0.1">15</text>
<path d="M228.3 22.2H229.6" stroke="#333" stroke-width="0.5"/>
<text x="228" y="24.4" font-size="4.5" text-anchor="end" fill="#555" stroke="#555" stroke-width="0.1">20</text>
<path d="M248.8 130.3V131.6" stroke="#333" stroke-width="0.5"/>
<text x="248.8" y="135.4" font-size="4.5" text-anchor="middle" fill="#666" stroke="#666" stroke-width="0.08">7</text>
<path d="M280.15 130.3V131.6" stroke="#333" stroke-width="0.5"/>
<text x="280.15" y="135.4" font-size="4.5" text-anchor="middle" fill="#666" stroke="#666" stroke-width="0.08">14</text>
<path d="M311.5 130.3V131.6" stroke="#333" stroke-width="0.5"/>
<text x="311.5" y="135.4" font-size="4.5" text-anchor="middle" fill="#666" stroke="#666" stroke-width="0.08">21</text>
<path d="M342.85 130.3V131.6" stroke="#333" stroke-width="0.5"/>
<text x="342.85" y="135.4" font-size="4.5" text-anchor="middle" fill="#666" stroke="#666" stroke-width="0.08">28</text>
<path d="M374.2 130.3V131.6" stroke="#333" stroke-width="0.5"/>
<text x="374.2" y="135.4" font-size="4.5" text-anchor="middle" fill="#666" stroke="#666" stroke-width="0.08">35</text>
<text x="300.8" y="141" font-size="5.95" fill="#000">Time (d)</text>
<text transform="translate(221.2 66.6) rotate(-90)" x="-32.55" y="0" font-size="6.1" textLength="65.1" lengthAdjust="spacingAndGlyphs" fill="#000">Root surface area (cm²)</text>
<text x="397.7" y="56.7" font-size="5.95" fill="#000" stroke="#000" stroke-width="0.05">Treatment</text>
<rect x="397.8" y="58.4" width="3.8" height="4.65" fill="#b2b030"/>
<text x="403.6" y="62.35" font-size="4.75" fill="#111" stroke="#111" stroke-width="0.1">15%</text>
<rect x="397.8" y="63.05" width="3.8" height="4.65" fill="#7a7c2c"/>
<text x="403.6" y="67" font-size="4.75" fill="#111" stroke="#111" stroke-width="0.1">30%</text>
<rect x="397.8" y="67.7" width="3.8" height="4.65" fill="#4a4a1a"/>
<text x="403.6" y="71.65" font-size="4.75" fill="#111" stroke="#111" stroke-width="0.1">45%</text>
<rect x="397.8" y="72.35" width="3.8" height="4.65" fill="#9585de"/>
<text x="403.6" y="76.3" font-size="4.75" fill="#111" stroke="#111" stroke-width="0.1">60%</text>
<rect x="397.8" y="77" width="3.8" height="4.65" fill="#4a40b0"/>
<text x="403.6" y="80.95" font-size="4.75" fill="#111" stroke="#111" stroke-width="0.1">ck</text>
<text x="321.5" y="155.2" font-size="8.2" font-weight="bold" text-anchor="middle" fill="#111" style="font-family:'Liberation Serif',serif">(b)</text>
<rect x="25.7" y="196.1" width="3.9" height="86.7" fill="#b0a020"/>
<rect x="29.6" y="196.1" width="1" height="86.7" fill="#c8b860"/>
<rect x="25.7" y="196.6" width="3.9" height="11.4" fill="#f08020"/>
<rect x="25.7" y="208" width="3.9" height="15.5" fill="#60c030"/>
<rect x="25.7" y="223.5" width="3.9" height="15.5" fill="#f08020"/>
<rect x="25.7" y="239" width="3.9" height="14" fill="#60c030"/>
<rect x="26.1" y="196.1" width="3.92" height="2.8" fill="#000" fill-opacity="0.35"/>
<path d="M28.06 193.3V196.1" stroke="#888" stroke-width="0.45" fill="none"/>
<text x="28.06" y="192.6" font-size="4.7" text-anchor="middle" fill="#2a2a2a" stroke="#2a2a2a" stroke-width="0.1">ab</text>
<rect x="30.6" y="196.1" width="3.2" height="86.7" fill="#8a7a30"/>
<rect x="33.8" y="196.1" width="1.34" height="86.7" fill="#e89070"/>
<rect x="30.6" y="196.6" width="3.2" height="11.4" fill="#3aa820"/>
<rect x="30.6" y="208" width="3.2" height="15.5" fill="#f04040"/>
<rect x="30.6" y="223.5" width="3.2" height="15.5" fill="#3aa820"/>
<rect x="30.6" y="239" width="3.2" height="14" fill="#f04040"/>
<rect x="30.82" y="196.1" width="3.92" height="2.8" fill="#000" fill-opacity="0.35"/>
<path d="M32.78 193.3V196.1" stroke="#888" stroke-width="0.45" fill="none"/>
<text x="32.78" y="192.6" font-size="4.7" text-anchor="middle" fill="#2a2a2a" stroke="#2a2a2a" stroke-width="0.1">b</text>
<rect x="35.14" y="195.1" width="0.76" height="87.7" fill="#e89070"/>
<rect x="35.9" y="195.1" width="2.8" height="87.7" fill="#9a4830"/>
<rect x="38.7" y="195.1" width="1.16" height="87.7" fill="#e080c0"/>
<rect x="35.9" y="195.6" width="2.8" height="12.4" fill="#d82828"/>
<rect x="35.9" y="208" width="2.8" height="15.5" fill="#8a4a20"/>
<rect x="35.9" y="223.5" width="2.8" height="15.5" fill="#d82828"/>
<rect x="35.9" y="239" width="2.8" height="14" fill="#8a4a20"/>
<rect x="35.54" y="195.1" width="3.92" height="3" fill="#000" fill-opacity="0.35"/>
<path d="M37.5 191.9V195.1" stroke="#888" stroke-width="0.45" fill="none"/>
<text x="37.5" y="191.2" font-size="4.7" text-anchor="middle" fill="#2a2a2a" stroke="#2a2a2a" stroke-width="0.1">a</text>
<rect x="39.86" y="193.7" width="0.54" height="89.1" fill="#e080c0"/>
<rect x="40.4" y="193.7" width="1.4" height="89.1" fill="#d070c0"/>
<rect x="41.8" y="193.7" width="1.8" height="89.1" fill="#5880c0"/>
<rect x="43.6" y="193.7" width="0.98" height="89.1" fill="#a0c0f0"/>
<rect x="40.4" y="194.2" width="3.2" height="13.8" fill="#b070d0"/>
<rect x="40.4" y="208" width="3.2" height="15.5" fill="#30a0c8"/>
<rect x="40.4" y="223.5" width="3.2" height="15.5" fill="#b070d0"/>
<rect x="40.4" y="239" width="3.2" height="14" fill="#30a0c8"/>
<rect x="40.26" y="193.7" width="3.92" height="3" fill="#000" fill-opacity="0.35"/>
<path d="M42.22 190V193.7" stroke="#888" stroke-width="0.45" fill="none"/>
<text x="42.22" y="189.3" font-size="4.7" text-anchor="middle" fill="#2a2a2a" stroke="#2a2a2a" stroke-width="0.1">a</text>
<rect x="44.58" y="196.1" width="3.92" height="86.7" fill="#4060b0"/>
<rect x="48.5" y="196.1" width="0.8" height="86.7" fill="#90c0f0"/>
<rect x="44.58" y="196.6" width="3.92" height="11.4" fill="#4060b0"/>
<rect x="44.58" y="208" width="3.92" height="15.5" fill="#6048b0"/>
<rect x="44.58" y="223.5" width="3.92" height="15.5" fill="#4060b0"/>
<rect x="44.58" y="239" width="3.92" height="14" fill="#6048b0"/>
<rect x="44.98" y="196.1" width="3.92" height="3" fill="#000" fill-opacity="0.35"/>
<path d="M46.94 192.8V196.1" stroke="#888" stroke-width="0.45" fill="none"/>
<text x="46.94" y="192.1" font-size="4.7" text-anchor="middle" fill="#2a2a2a" stroke="#2a2a2a" stroke-width="0.1">b</text>
<rect x="57.2" y="182" width="3.9" height="100.8" fill="#b0a020"/>
<rect x="61.1" y="182" width="1" height="100.8" fill="#c8b860"/>
<rect x="57.2" y="182.5" width="3.9" height="9.5" fill="#60c030"/>
<rect x="57.2" y="192" width="3.9" height="16" fill="#f08020"/>
<rect x="57.2" y="208" width="3.9" height="15.5" fill="#60c030"/>
<rect x="57.2" y="223.5" width="3.9" height="15.5" fill="#f08020"/>
<rect x="57.2" y="239" width="3.9" height="14" fill="#60c030"/>
<rect x="57.6" y="182" width="3.92" height="1.2" fill="#000" fill-opacity="0.35"/>
<path d="M59.56 180.8V182" stroke="#888" stroke-width="0.45" fill="none"/>
<text x="54.75" y="180.1" font-size="4.7" text-anchor="middle" fill="#2a2a2a" stroke="#2a2a2a" stroke-width="0.1">bc</text>
<rect x="62.1" y="182" width="3.2" height="100.8" fill="#8a7a30"/>
<rect x="65.3" y="182" width="1.34" height="100.8" fill="#e89070"/>
<rect x="62.1" y="182.5" width="3.2" height="9.5" fill="#f04040"/>
<rect x="62.1" y="192" width="3.2" height="16" fill="#3aa820"/>
<rect x="62.1" y="208" width="3.2" height="15.5" fill="#f04040"/>
<rect x="62.1" y="223.5" width="3.2" height="15.5" fill="#3aa820"/>
<rect x="62.1" y="239" width="3.2" height="14" fill="#f04040"/>
<rect x="62.32" y="182" width="3.92" height="1.2" fill="#000" fill-opacity="0.35"/>
<path d="M64.28 180.8V182" stroke="#888" stroke-width="0.45" fill="none"/>
<text x="64.28" y="180.1" font-size="4.7" text-anchor="middle" fill="#2a2a2a" stroke="#2a2a2a" stroke-width="0.1">abc</text>
<rect x="66.64" y="181.7" width="0.76" height="101.1" fill="#e89070"/>
<rect x="67.4" y="181.7" width="2.8" height="101.1" fill="#9a4830"/>
<rect x="70.2" y="181.7" width="1.16" height="101.1" fill="#e080c0"/>
<rect x="67.4" y="182.2" width="2.8" height="9.8" fill="#8a4a20"/>
<rect x="67.4" y="192" width="2.8" height="16" fill="#d82828"/>
<rect x="67.4" y="208" width="2.8" height="15.5" fill="#8a4a20"/>
<rect x="67.4" y="223.5" width="2.8" height="15.5" fill="#d82828"/>
<rect x="67.4" y="239" width="2.8" height="14" fill="#8a4a20"/>
<rect x="67.04" y="181.7" width="3.92" height="0.9" fill="#000" fill-opacity="0.35"/>
<path d="M69 180.8V181.7" stroke="#888" stroke-width="0.45" fill="none"/>
<text x="69" y="180.1" font-size="4.7" text-anchor="middle" fill="#2a2a2a" stroke="#2a2a2a" stroke-width="0.1">a</text>
<rect x="71.36" y="182" width="0.54" height="100.8" fill="#e080c0"/>
<rect x="71.9" y="182" width="1.4" height="100.8" fill="#d070c0"/>
<rect x="73.3" y="182" width="1.8" height="100.8" fill="#5880c0"/>
<rect x="75.1" y="182" width="0.98" height="100.8" fill="#a0c0f0"/>
<rect x="71.9" y="182.5" width="3.2" height="9.5" fill="#30a0c8"/>
<rect x="71.9" y="192" width="3.2" height="16" fill="#b070d0"/>
<rect x="71.9" y="208" width="3.2" height="15.5" fill="#30a0c8"/>
<rect x="71.9" y="223.5" width="3.2" height="15.5" fill="#b070d0"/>
<rect x="71.9" y="239" width="3.2" height="14" fill="#30a0c8"/>
<rect x="71.76" y="182" width="3.92" height="1.2" fill="#000" fill-opacity="0.35"/>
<path d="M73.72 180.8V182" stroke="#888" stroke-width="0.45" fill="none"/>
<text x="73.72" y="180.1" font-size="4.7" text-anchor="middle" fill="#2a2a2a" stroke="#2a2a2a" stroke-width="0.1">ab</text>
<rect x="76.08" y="183.1" width="3.92" height="99.7" fill="#4060b0"/>
<rect x="80" y="183.1" width="0.8" height="99.7" fill="#90c0f0"/>
<rect x="76.08" y="183.6" width="3.92" height="8.4" fill="#6048b0"/>
<rect x="76.08" y="192" width="3.92" height="16" fill="#4060b0"/>
<rect x="76.08" y="208" width="3.92" height="15.5" fill="#6048b0"/>
<rect x="76.08" y="223.5" width="3.92" height="15.5" fill="#4060b0"/>
<rect x="76.08" y="239" width="3.92" height="14" fill="#6048b0"/>
<rect x="76.48" y="183.1" width="3.92" height="2.3" fill="#000" fill-opacity="0.35"/>
<path d="M78.44 180.8V183.1" stroke="#888" stroke-width="0.45" fill="none"/>
<text x="78.44" y="180.1" font-size="4.7" text-anchor="middle" fill="#2a2a2a" stroke="#2a2a2a" stroke-width="0.1">c</text>
<rect x="88.7" y="180.1" width="3.9" height="102.7" fill="#b0a020"/>
<rect x="92.6" y="180.1" width="1" height="102.7" fill="#c8b860"/>
<rect x="88.7" y="180.6" width="3.9" height="11.4" fill="#60c030"/>
<rect x="88.7" y="192" width="3.9" height="16" fill="#f08020"/>
<rect x="88.7" y="208" width="3.9" height="15.5" fill="#60c030"/>
<rect x="88.7" y="223.5" width="3.9" height="15.5" fill="#f08020"/>
<rect x="88.7" y="239" width="3.9" height="14" fill="#60c030"/>
<rect x="89.1" y="180.1" width="3.92" height="0.9" fill="#000" fill-opacity="0.35"/>
<path d="M91.06 179.2V180.1" stroke="#888" stroke-width="0.45" fill="none"/>
<text x="91.06" y="178.5" font-size="4.7" text-anchor="middle" fill="#2a2a2a" stroke="#2a2a2a" stroke-width="0.1">a</text>
<rect x="93.6" y="180.1" width="3.2" height="102.7" fill="#8a7a30"/>
<rect x="96.8" y="180.1" width="1.34" height="102.7" fill="#e89070"/>
<rect x="93.6" y="180.6" width="3.2" height="11.4" fill="#f04040"/>
<rect x="93.6" y="192" width="3.2" height="16" fill="#3aa820"/>
<rect x="93.6" y="208" width="3.2" height="15.5" fill="#f04040"/>
<rect x="93.6" y="223.5" width="3.2" height="15.5" fill="#3aa820"/>
<rect x="93.6" y="239" width="3.2" height="14" fill="#f04040"/>
<rect x="93.82" y="180.1" width="3.92" height="0.9" fill="#000" fill-opacity="0.35"/>
<path d="M95.78 179.2V180.1" stroke="#888" stroke-width="0.45" fill="none"/>
<text x="95.78" y="178.5" font-size="4.7" text-anchor="middle" fill="#2a2a2a" stroke="#2a2a2a" stroke-width="0.1">a</text>
<rect x="98.14" y="180.1" width="0.76" height="102.7" fill="#e89070"/>
<rect x="98.9" y="180.1" width="2.8" height="102.7" fill="#9a4830"/>
<rect x="101.7" y="180.1" width="1.16" height="102.7" fill="#e080c0"/>
<rect x="98.9" y="180.6" width="2.8" height="11.4" fill="#8a4a20"/>
<rect x="98.9" y="192" width="2.8" height="16" fill="#d82828"/>
<rect x="98.9" y="208" width="2.8" height="15.5" fill="#8a4a20"/>
<rect x="98.9" y="223.5" width="2.8" height="15.5" fill="#d82828"/>
<rect x="98.9" y="239" width="2.8" height="14" fill="#8a4a20"/>
<rect x="98.54" y="180.1" width="3.92" height="0.9" fill="#000" fill-opacity="0.35"/>
<path d="M100.5 179.2V180.1" stroke="#888" stroke-width="0.45" fill="none"/>
<text x="100.5" y="178.5" font-size="4.7" text-anchor="middle" fill="#2a2a2a" stroke="#2a2a2a" stroke-width="0.1">a</text>
<rect x="102.86" y="179.2" width="0.54" height="103.6" fill="#e080c0"/>
<rect x="103.4" y="179.2" width="1.4" height="103.6" fill="#d070c0"/>
<rect x="104.8" y="179.2" width="1.8" height="103.6" fill="#5880c0"/>
<rect x="106.6" y="179.2" width="0.98" height="103.6" fill="#a0c0f0"/>
<rect x="103.4" y="179.7" width="3.2" height="12.3" fill="#30a0c8"/>
<rect x="103.4" y="192" width="3.2" height="16" fill="#b070d0"/>
<rect x="103.4" y="208" width="3.2" height="15.5" fill="#30a0c8"/>
<rect x="103.4" y="223.5" width="3.2" height="15.5" fill="#b070d0"/>
<rect x="103.4" y="239" width="3.2" height="14" fill="#30a0c8"/>
<rect x="103.26" y="179.2" width="3.92" height="1.9" fill="#000" fill-opacity="0.35"/>
<path d="M105.22 177.3V179.2" stroke="#888" stroke-width="0.45" fill="none"/>
<text x="105.22" y="176.6" font-size="4.7" text-anchor="middle" fill="#2a2a2a" stroke="#2a2a2a" stroke-width="0.1">a</text>
<rect x="107.58" y="182" width="3.92" height="100.8" fill="#4060b0"/>
<rect x="111.5" y="182" width="0.8" height="100.8" fill="#90c0f0"/>
<rect x="107.58" y="182.5" width="3.92" height="9.5" fill="#6048b0"/>
<rect x="107.58" y="192" width="3.92" height="16" fill="#4060b0"/>
<rect x="107.58" y="208" width="3.92" height="15.5" fill="#6048b0"/>
<rect x="107.58" y="223.5" width="3.92" height="15.5" fill="#4060b0"/>
<rect x="107.58" y="239" width="3.92" height="14" fill="#6048b0"/>
<rect x="107.98" y="182" width="3.92" height="2.3" fill="#000" fill-opacity="0.35"/>
<path d="M109.94 179.7V182" stroke="#888" stroke-width="0.45" fill="none"/>
<text x="109.94" y="179" font-size="4.7" text-anchor="middle" fill="#2a2a2a" stroke="#2a2a2a" stroke-width="0.1">a</text>
<rect x="120.2" y="175.5" width="3.9" height="107.3" fill="#b0a020"/>
<rect x="124.1" y="175.5" width="1" height="107.3" fill="#c8b860"/>
<rect x="120.2" y="176" width="3.9" height="0.5" fill="#f08020"/>
<rect x="120.2" y="176.5" width="3.9" height="15.5" fill="#60c030"/>
<rect x="120.2" y="192" width="3.9" height="16" fill="#f08020"/>
<rect x="120.2" y="208" width="3.9" height="15.5" fill="#60c030"/>
<rect x="120.2" y="223.5" width="3.9" height="15.5" fill="#f08020"/>
<rect x="120.2" y="239" width="3.9" height="14" fill="#60c030"/>
<rect x="120.6" y="175.5" width="3.92" height="3" fill="#000" fill-opacity="0.35"/>
<path d="M122.56 171.8V175.5" stroke="#888" stroke-width="0.45" fill="none"/>
<text x="122.56" y="171.1" font-size="4.7" text-anchor="middle" fill="#2a2a2a" stroke="#2a2a2a" stroke-width="0.1">b</text>
<rect x="125.1" y="175.5" width="3.2" height="107.3" fill="#8a7a30"/>
<rect x="128.3" y="175.5" width="1.34" height="107.3" fill="#e89070"/>
<rect x="125.1" y="176" width="3.2" height="0.5" fill="#3aa820"/>
<rect x="125.1" y="176.5" width="3.2" height="15.5" fill="#f04040"/>
<rect x="125.1" y="192" width="3.2" height="16" fill="#3aa820"/>
<rect x="125.1" y="208" width="3.2" height="15.5" fill="#f04040"/>
<rect x="125.1" y="223.5" width="3.2" height="15.5" fill="#3aa820"/>
<rect x="125.1" y="239" width="3.2" height="14" fill="#f04040"/>
<rect x="125.32" y="175.5" width="3.92" height="3" fill="#000" fill-opacity="0.35"/>
<path d="M127.28 171.8V175.5" stroke="#888" stroke-width="0.45" fill="none"/>
<text x="127.28" y="171.1" font-size="4.7" text-anchor="middle" fill="#2a2a2a" stroke="#2a2a2a" stroke-width="0.1">b</text>
<rect x="129.64" y="174.1" width="0.76" height="108.7" fill="#e89070"/>
<rect x="130.4" y="174.1" width="2.8" height="108.7" fill="#9a4830"/>
<rect x="133.2" y="174.1" width="1.16" height="108.7" fill="#e080c0"/>
<rect x="130.4" y="174.6" width="2.8" height="1.9" fill="#d82828"/>
<rect x="130.4" y="176.5" width="2.8" height="15.5" fill="#8a4a20"/>
<rect x="130.4" y="192" width="2.8" height="16" fill="#d82828"/>
<rect x="130.4" y="208" width="2.8" height="15.5" fill="#8a4a20"/>
<rect x="130.4" y="223.5" width="2.8" height="15.5" fill="#d82828"/>
<rect x="130.4" y="239" width="2.8" height="14" fill="#8a4a20"/>
<rect x="130.04" y="174.1" width="3.92" height="3" fill="#000" fill-opacity="0.35"/>
<path d="M132 170.3V174.1" stroke="#888" stroke-width="0.45" fill="none"/>
<text x="132" y="169.6" font-size="4.7" text-anchor="middle" fill="#2a2a2a" stroke="#2a2a2a" stroke-width="0.1">a</text>
<rect x="134.36" y="174.6" width="0.54" height="108.2" fill="#e080c0"/>
<rect x="134.9" y="174.6" width="1.4" height="108.2" fill="#d070c0"/>
<rect x="136.3" y="174.6" width="1.8" height="108.2" fill="#5880c0"/>
<rect x="138.1" y="174.6" width="0.98" height="108.2" fill="#a0c0f0"/>
<rect x="134.9" y="175.1" width="3.2" height="1.4" fill="#b070d0"/>
<rect x="134.9" y="176.5" width="3.2" height="15.5" fill="#30a0c8"/>
<rect x="134.9" y="192" width="3.2" height="16" fill="#b070d0"/>
<rect x="134.9" y="208" width="3.2" height="15.5" fill="#30a0c8"/>
<rect x="134.9" y="223.5" width="3.2" height="15.5" fill="#b070d0"/>
<rect x="134.9" y="239" width="3.2" height="14" fill="#30a0c8"/>
<rect x="134.76" y="174.6" width="3.92" height="3" fill="#000" fill-opacity="0.35"/>
<path d="M136.72 170.3V174.6" stroke="#888" stroke-width="0.45" fill="none"/>
<text x="136.72" y="169.6" font-size="4.7" text-anchor="middle" fill="#2a2a2a" stroke="#2a2a2a" stroke-width="0.1">a</text>
<rect x="139.08" y="175.5" width="3.92" height="107.3" fill="#4060b0"/>
<rect x="143" y="175.5" width="0.8" height="107.3" fill="#90c0f0"/>
<rect x="139.08" y="176" width="3.92" height="0.5" fill="#4060b0"/>
<rect x="139.08" y="176.5" width="3.92" height="15.5" fill="#6048b0"/>
<rect x="139.08" y="192" width="3.92" height="16" fill="#4060b0"/>
<rect x="139.08" y="208" width="3.92" height="15.5" fill="#6048b0"/>
<rect x="139.08" y="223.5" width="3.92" height="15.5" fill="#4060b0"/>
<rect x="139.08" y="239" width="3.92" height="14" fill="#6048b0"/>
<rect x="139.48" y="175.5" width="3.92" height="3" fill="#000" fill-opacity="0.35"/>
<path d="M141.44 171.8V175.5" stroke="#888" stroke-width="0.45" fill="none"/>
<text x="141.44" y="171.1" font-size="4.7" text-anchor="middle" fill="#2a2a2a" stroke="#2a2a2a" stroke-width="0.1">b</text>
<rect x="151.7" y="166.2" width="3.9" height="116.6" fill="#b0a020"/>
<rect x="155.6" y="166.2" width="1" height="116.6" fill="#c8b860"/>
<rect x="151.7" y="166.7" width="3.9" height="9.8" fill="#f08020"/>
<rect x="151.7" y="176.5" width="3.9" height="15.5" fill="#60c030"/>
<rect x="151.7" y="192" width="3.9" height="16" fill="#f08020"/>
<rect x="151.7" y="208" width="3.9" height="15.5" fill="#60c030"/>
<rect x="151.7" y="223.5" width="3.9" height="15.5" fill="#f08020"/>
<rect x="151.7" y="239" width="3.9" height="14" fill="#60c030"/>
<rect x="152.1" y="166.2" width="3.92" height="1.4" fill="#000" fill-opacity="0.35"/>
<path d="M154.06 164.8V166.2" stroke="#888" stroke-width="0.45" fill="none"/>
<text x="154.06" y="164.1" font-size="4.7" text-anchor="middle" fill="#2a2a2a" stroke="#2a2a2a" stroke-width="0.1">b</text>
<rect x="156.6" y="166.2" width="3.2" height="116.6" fill="#8a7a30"/>
<rect x="159.8" y="166.2" width="1.34" height="116.6" fill="#e89070"/>
<rect x="156.6" y="166.7" width="3.2" height="9.8" fill="#3aa820"/>
<rect x="156.6" y="176.5" width="3.2" height="15.5" fill="#f04040"/>
<rect x="156.6" y="192" width="3.2" height="16" fill="#3aa820"/>
<rect x="156.6" y="208" width="3.2" height="15.5" fill="#f04040"/>
<rect x="156.6" y="223.5" width="3.2" height="15.5" fill="#3aa820"/>
<rect x="156.6" y="239" width="3.2" height="14" fill="#f04040"/>
<rect x="156.82" y="166.2" width="3.92" height="1.4" fill="#000" fill-opacity="0.35"/>
<path d="M158.78 164.8V166.2" stroke="#888" stroke-width="0.45" fill="none"/>
<text x="158.78" y="164.1" font-size="4.7" text-anchor="middle" fill="#2a2a2a" stroke="#2a2a2a" stroke-width="0.1">b</text>
<rect x="161.14" y="166.2" width="0.76" height="116.6" fill="#e89070"/>
<rect x="161.9" y="166.2" width="2.8" height="116.6" fill="#9a4830"/>
<rect x="164.7" y="166.2" width="1.16" height="116.6" fill="#e080c0"/>
<rect x="161.9" y="166.7" width="2.8" height="9.8" fill="#d82828"/>
<rect x="161.9" y="176.5" width="2.8" height="15.5" fill="#8a4a20"/>
<rect x="161.9" y="192" width="2.8" height="16" fill="#d82828"/>
<rect x="161.9" y="208" width="2.8" height="15.5" fill="#8a4a20"/>
<rect x="161.9" y="223.5" width="2.8" height="15.5" fill="#d82828"/>
<rect x="161.9" y="239" width="2.8" height="14" fill="#8a4a20"/>
<rect x="161.54" y="166.2" width="3.92" height="1.4" fill="#000" fill-opacity="0.35"/>
<path d="M163.5 164.8V166.2" stroke="#888" stroke-width="0.45" fill="none"/>
<text x="163.5" y="164.1" font-size="4.7" text-anchor="middle" fill="#2a2a2a" stroke="#2a2a2a" stroke-width="0.1">a</text>
<rect x="165.86" y="166.2" width="0.54" height="116.6" fill="#e080c0"/>
<rect x="166.4" y="166.2" width="1.4" height="116.6" fill="#d070c0"/>
<rect x="167.8" y="166.2" width="1.8" height="116.6" fill="#5880c0"/>
<rect x="169.6" y="166.2" width="0.98" height="116.6" fill="#a0c0f0"/>
<rect x="166.4" y="166.7" width="3.2" height="9.8" fill="#b070d0"/>
<rect x="166.4" y="176.5" width="3.2" height="15.5" fill="#30a0c8"/>
<rect x="166.4" y="192" width="3.2" height="16" fill="#b070d0"/>
<rect x="166.4" y="208" width="3.2" height="15.5" fill="#30a0c8"/>
<rect x="166.4" y="223.5" width="3.2" height="15.5" fill="#b070d0"/>
<rect x="166.4" y="239" width="3.2" height="14" fill="#30a0c8"/>
<rect x="166.26" y="166.2" width="3.92" height="1.4" fill="#000" fill-opacity="0.35"/>
<path d="M168.22 164.8V166.2" stroke="#888" stroke-width="0.45" fill="none"/>
<text x="168.22" y="164.1" font-size="4.7" text-anchor="middle" fill="#2a2a2a" stroke="#2a2a2a" stroke-width="0.1">a</text>
<rect x="170.58" y="167.1" width="3.92" height="115.7" fill="#4060b0"/>
<rect x="174.5" y="167.1" width="0.8" height="115.7" fill="#90c0f0"/>
<rect x="170.58" y="167.6" width="3.92" height="8.9" fill="#4060b0"/>
<rect x="170.58" y="176.5" width="3.92" height="15.5" fill="#6048b0"/>
<rect x="170.58" y="192" width="3.92" height="16" fill="#4060b0"/>
<rect x="170.58" y="208" width="3.92" height="15.5" fill="#6048b0"/>
<rect x="170.58" y="223.5" width="3.92" height="15.5" fill="#4060b0"/>
<rect x="170.58" y="239" width="3.92" height="14" fill="#6048b0"/>
<rect x="170.98" y="167.1" width="3.92" height="0.8" fill="#000" fill-opacity="0.35"/>
<path d="M172.94 166.3V167.1" stroke="#888" stroke-width="0.45" fill="none"/>
<text x="172.94" y="166" font-size="4.7" text-anchor="middle" fill="#2a2a2a" stroke="#2a2a2a" stroke-width="0.1">c</text>
<path d="M18.5 159.5V288.4H182.5" stroke="#333" stroke-width="0.9" fill="none"/>
<path d="M17.2 282.8H18.5" stroke="#333" stroke-width="0.5"/>
<text x="16.9" y="285" font-size="4.5" text-anchor="end" fill="#555" stroke="#555" stroke-width="0.1">0.0</text>
<path d="M17.2 249.6H18.5" stroke="#333" stroke-width="0.5"/>
<text x="16.9" y="251.8" font-size="4.5" text-anchor="end" fill="#555" stroke="#555" stroke-width="0.1">0.2</text>
<path d="M17.2 216.4H18.5" stroke="#333" stroke-width="0.5"/>
<text x="16.9" y="218.6" font-size="4.5" text-anchor="end" fill="#555" stroke="#555" stroke-width="0.1">0.4</text>
<path d="M17.2 183.2H18.5" stroke="#333" stroke-width="0.5"/>
<text x="16.9" y="185.4" font-size="4.5" text-anchor="end" fill="#555" stroke="#555" stroke-width="0.1">0.6</text>
<path d="M37.5 288.4V289.7" stroke="#333" stroke-width="0.5"/>
<text x="37.5" y="292.9" font-size="4.5" text-anchor="middle" fill="#666" stroke="#666" stroke-width="0.08">7</text>
<path d="M69 288.4V289.7" stroke="#333" stroke-width="0.5"/>
<text x="69" y="292.9" font-size="4.5" text-anchor="middle" fill="#666" stroke="#666" stroke-width="0.08">14</text>
<path d="M100.5 288.4V289.7" stroke="#333" stroke-width="0.5"/>
<text x="100.5" y="292.9" font-size="4.5" text-anchor="middle" fill="#666" stroke="#666" stroke-width="0.08">21</text>
<path d="M132 288.4V289.7" stroke="#333" stroke-width="0.5"/>
<text x="132" y="292.9" font-size="4.5" text-anchor="middle" fill="#666" stroke="#666" stroke-width="0.08">28</text>
<path d="M163.5 288.4V289.7" stroke="#333" stroke-width="0.5"/>
<text x="163.5" y="292.9" font-size="4.5" text-anchor="middle" fill="#666" stroke="#666" stroke-width="0.08">35</text>
<text x="89.9" y="299.1" font-size="5.95" fill="#000">Time (d)</text>
<text transform="translate(8.4 223.6) rotate(-90)" x="-38.2" y="0" font-size="6.1" textLength="76.4" lengthAdjust="spacingAndGlyphs" fill="#000">Root average diameter (cm)</text>
<text x="187.4" y="213.8" font-size="5.95" fill="#000" stroke="#000" stroke-width="0.05">Treatment</text>
<rect x="187.5" y="215.5" width="3.8" height="4.65" fill="#b2b030"/>
<text x="193.3" y="219.45" font-size="4.75" fill="#111" stroke="#111" stroke-width="0.1">15%</text>
<rect x="187.5" y="220.15" width="3.8" height="4.65" fill="#7a7c2c"/>
<text x="193.3" y="224.1" font-size="4.75" fill="#111" stroke="#111" stroke-width="0.1">30%</text>
<rect x="187.5" y="224.8" width="3.8" height="4.65" fill="#4a4a1a"/>
<text x="193.3" y="228.75" font-size="4.75" fill="#111" stroke="#111" stroke-width="0.1">45%</text>
<rect x="187.5" y="229.45" width="3.8" height="4.65" fill="#9585de"/>
<text x="193.3" y="233.4" font-size="4.75" fill="#111" stroke="#111" stroke-width="0.1">60%</text>
<rect x="187.5" y="234.1" width="3.8" height="4.65" fill="#4a40b0"/>
<text x="193.3" y="238.05" font-size="4.75" fill="#111" stroke="#111" stroke-width="0.1">ck</text>
<text x="108.8" y="313.4" font-size="8.2" font-weight="bold" text-anchor="middle" fill="#111" style="font-family:'Liberation Serif',serif">(c)</text>
<rect x="240.7" y="224.4" width="3.9" height="58.5" fill="#b0a020"/>
<rect x="244.6" y="224.4" width="1" height="58.5" fill="#c8b860"/>
<rect x="241.1" y="224.4" width="3.92" height="3" fill="#000" fill-opacity="0.35"/>
<path d="M243.06 220.6V224.4" stroke="#888" stroke-width="0.45" fill="none"/>
<text x="243.06" y="219.9" font-size="4.7" text-anchor="middle" fill="#2a2a2a" stroke="#2a2a2a" stroke-width="0.1">d</text>
<rect x="245.6" y="222" width="3.2" height="60.9" fill="#8a7a30"/>
<rect x="248.8" y="222" width="1.34" height="60.9" fill="#e89070"/>
<rect x="245.82" y="222" width="3.92" height="3" fill="#000" fill-opacity="0.35"/>
<path d="M247.78 218.8V222" stroke="#888" stroke-width="0.45" fill="none"/>
<text x="247.78" y="218.1" font-size="4.7" text-anchor="middle" fill="#2a2a2a" stroke="#2a2a2a" stroke-width="0.1">c</text>
<rect x="250.14" y="219.7" width="0.76" height="63.2" fill="#e89070"/>
<rect x="250.9" y="219.7" width="2.8" height="63.2" fill="#9a4830"/>
<rect x="253.7" y="219.7" width="1.16" height="63.2" fill="#e080c0"/>
<rect x="250.54" y="219.7" width="3.92" height="3" fill="#000" fill-opacity="0.35"/>
<path d="M252.5 215.4V219.7" stroke="#888" stroke-width="0.45" fill="none"/>
<text x="252.5" y="214.7" font-size="4.7" text-anchor="middle" fill="#2a2a2a" stroke="#2a2a2a" stroke-width="0.1">b</text>
<rect x="254.86" y="217.1" width="0.54" height="65.8" fill="#e080c0"/>
<rect x="255.4" y="217.1" width="1.4" height="65.8" fill="#d070c0"/>
<rect x="256.8" y="217.1" width="1.8" height="65.8" fill="#5880c0"/>
<rect x="258.6" y="217.1" width="0.98" height="65.8" fill="#a0c0f0"/>
<rect x="255.26" y="217.1" width="3.92" height="3" fill="#000" fill-opacity="0.35"/>
<path d="M257.22 213.5V217.1" stroke="#888" stroke-width="0.45" fill="none"/>
<text x="257.22" y="212.8" font-size="4.7" text-anchor="middle" fill="#2a2a2a" stroke="#2a2a2a" stroke-width="0.1">a</text>
<rect x="259.58" y="226.6" width="3.92" height="56.3" fill="#4060b0"/>
<rect x="263.5" y="226.6" width="0.8" height="56.3" fill="#90c0f0"/>
<rect x="259.98" y="226.6" width="3.92" height="3" fill="#000" fill-opacity="0.35"/>
<path d="M261.94 222.5V226.6" stroke="#888" stroke-width="0.45" fill="none"/>
<text x="261.94" y="221.8" font-size="4.7" text-anchor="middle" fill="#2a2a2a" stroke="#2a2a2a" stroke-width="0.1">e</text>
<rect x="271.87" y="201.3" width="3.9" height="81.6" fill="#b0a020"/>
<rect x="275.77" y="201.3" width="1" height="81.6" fill="#c8b860"/>
<rect x="272.27" y="201.3" width="3.92" height="1.4" fill="#000" fill-opacity="0.35"/>
<path d="M274.23 199.9V201.3" stroke="#888" stroke-width="0.45" fill="none"/>
<text x="274.23" y="199.2" font-size="4.7" text-anchor="middle" fill="#2a2a2a" stroke="#2a2a2a" stroke-width="0.1">d</text>
<rect x="276.77" y="199.4" width="3.2" height="83.5" fill="#8a7a30"/>
<rect x="279.97" y="199.4" width="1.34" height="83.5" fill="#e89070"/>
<rect x="276.99" y="199.4" width="3.92" height="1.9" fill="#000" fill-opacity="0.35"/>
<path d="M278.95 197.5V199.4" stroke="#888" stroke-width="0.45" fill="none"/>
<text x="278.95" y="196.8" font-size="4.7" text-anchor="middle" fill="#2a2a2a" stroke="#2a2a2a" stroke-width="0.1">c</text>
<rect x="281.31" y="197" width="0.76" height="85.9" fill="#e89070"/>
<rect x="282.07" y="197" width="2.8" height="85.9" fill="#9a4830"/>
<rect x="284.87" y="197" width="1.16" height="85.9" fill="#e080c0"/>
<rect x="281.71" y="197" width="3.92" height="1.8" fill="#000" fill-opacity="0.35"/>
<path d="M283.67 195.2V197" stroke="#888" stroke-width="0.45" fill="none"/>
<text x="283.67" y="194.5" font-size="4.7" text-anchor="middle" fill="#2a2a2a" stroke="#2a2a2a" stroke-width="0.1">b</text>
<rect x="286.03" y="194.2" width="0.54" height="88.7" fill="#e080c0"/>
<rect x="286.57" y="194.2" width="1.4" height="88.7" fill="#d070c0"/>
<rect x="287.97" y="194.2" width="1.8" height="88.7" fill="#5880c0"/>
<rect x="289.77" y="194.2" width="0.98" height="88.7" fill="#a0c0f0"/>
<rect x="286.43" y="194.2" width="3.92" height="1.4" fill="#000" fill-opacity="0.35"/>
<path d="M288.39 192.8V194.2" stroke="#888" stroke-width="0.45" fill="none"/>
<text x="288.39" y="192.1" font-size="4.7" text-anchor="middle" fill="#2a2a2a" stroke="#2a2a2a" stroke-width="0.1">a</text>
<rect x="290.75" y="203.2" width="3.92" height="79.7" fill="#4060b0"/>
<rect x="294.67" y="203.2" width="0.8" height="79.7" fill="#90c0f0"/>
<rect x="291.15" y="203.2" width="3.92" height="1.4" fill="#000" fill-opacity="0.35"/>
<path d="M293.11 201.8V203.2" stroke="#888" stroke-width="0.45" fill="none"/>
<text x="293.11" y="201.1" font-size="4.7" text-anchor="middle" fill="#2a2a2a" stroke="#2a2a2a" stroke-width="0.1">d</text>
<rect x="303.04" y="191.3" width="3.9" height="91.6" fill="#b0a020"/>
<rect x="306.94" y="191.3" width="1" height="91.6" fill="#c8b860"/>
<rect x="303.44" y="191.3" width="3.92" height="1.4" fill="#000" fill-opacity="0.35"/>
<path d="M305.4 189.9V191.3" stroke="#888" stroke-width="0.45" fill="none"/>
<text x="305.4" y="189.2" font-size="4.7" text-anchor="middle" fill="#2a2a2a" stroke="#2a2a2a" stroke-width="0.1">d</text>
<rect x="307.94" y="189.4" width="3.2" height="93.5" fill="#8a7a30"/>
<rect x="311.14" y="189.4" width="1.34" height="93.5" fill="#e89070"/>
<rect x="308.16" y="189.4" width="3.92" height="1.9" fill="#000" fill-opacity="0.35"/>
<path d="M310.12 187.5V189.4" stroke="#888" stroke-width="0.45" fill="none"/>
<text x="310.12" y="186.8" font-size="4.7" text-anchor="middle" fill="#2a2a2a" stroke="#2a2a2a" stroke-width="0.1">c</text>
<rect x="312.48" y="187.5" width="0.76" height="95.4" fill="#e89070"/>
<rect x="313.24" y="187.5" width="2.8" height="95.4" fill="#9a4830"/>
<rect x="316.04" y="187.5" width="1.16" height="95.4" fill="#e080c0"/>
<rect x="312.88" y="187.5" width="3.92" height="2.3" fill="#000" fill-opacity="0.35"/>
<path d="M314.84 185.2V187.5" stroke="#888" stroke-width="0.45" fill="none"/>
<text x="314.84" y="184.5" font-size="4.7" text-anchor="middle" fill="#2a2a2a" stroke="#2a2a2a" stroke-width="0.1">b</text>
<rect x="317.2" y="186.1" width="0.54" height="96.8" fill="#e080c0"/>
<rect x="317.74" y="186.1" width="1.4" height="96.8" fill="#d070c0"/>
<rect x="319.14" y="186.1" width="1.8" height="96.8" fill="#5880c0"/>
<rect x="320.94" y="186.1" width="0.98" height="96.8" fill="#a0c0f0"/>
<rect x="317.6" y="186.1" width="3.92" height="1.6" fill="#000" fill-opacity="0.35"/>
<path d="M319.56 184.5V186.1" stroke="#888" stroke-width="0.45" fill="none"/>
<text x="319.56" y="183.8" font-size="4.7" text-anchor="middle" fill="#2a2a2a" stroke="#2a2a2a" stroke-width="0.1">a</text>
<rect x="321.92" y="192.7" width="3.92" height="90.2" fill="#4060b0"/>
<rect x="325.84" y="192.7" width="0.8" height="90.2" fill="#90c0f0"/>
<rect x="322.32" y="192.7" width="3.92" height="0.9" fill="#000" fill-opacity="0.35"/>
<path d="M324.28 191.8V192.7" stroke="#888" stroke-width="0.45" fill="none"/>
<text x="324.28" y="191.1" font-size="4.7" text-anchor="middle" fill="#2a2a2a" stroke="#2a2a2a" stroke-width="0.1">e</text>
<rect x="334.21" y="188.2" width="0.7" height="94.7" fill="#e8dca0"/>
<rect x="334.91" y="188.2" width="2.8" height="94.7" fill="#a0a428"/>
<rect x="337.71" y="188.2" width="1.1" height="94.7" fill="#c0d070"/>
<rect x="334.61" y="188.2" width="3.92" height="1.9" fill="#000" fill-opacity="0.35"/>
<path d="M336.57 186.3V188.2" stroke="#888" stroke-width="0.45" fill="none"/>
<text x="336.57" y="185.6" font-size="4.7" text-anchor="middle" fill="#2a2a2a" stroke="#2a2a2a" stroke-width="0.1">d</text>
<rect x="338.81" y="184.9" width="4.1" height="98" fill="#6a7a30"/>
<rect x="342.91" y="184.9" width="0.74" height="98" fill="#b0b070"/>
<rect x="339.33" y="184.9" width="3.92" height="2.4" fill="#000" fill-opacity="0.35"/>
<path d="M341.29 182.5V184.9" stroke="#888" stroke-width="0.45" fill="none"/>
<text x="341.29" y="181.8" font-size="4.7" text-anchor="middle" fill="#2a2a2a" stroke="#2a2a2a" stroke-width="0.1">c</text>
<rect x="343.65" y="180.6" width="0.36" height="102.3" fill="#b0b070"/>
<rect x="344.01" y="180.6" width="2.6" height="102.3" fill="#9a4030"/>
<rect x="346.61" y="180.6" width="1.4" height="102.3" fill="#f0a0c8"/>
<rect x="344.05" y="180.6" width="3.92" height="3" fill="#000" fill-opacity="0.35"/>
<path d="M346.01 176.9V180.6" stroke="#888" stroke-width="0.45" fill="none"/>
<text x="346.01" y="176.2" font-size="4.7" text-anchor="middle" fill="#2a2a2a" stroke="#2a2a2a" stroke-width="0.1">b</text>
<rect x="348.01" y="175.9" width="3.7" height="107" fill="#c058c0"/>
<rect x="351.71" y="175.9" width="1.1" height="107" fill="#a0b0f0"/>
<rect x="348.77" y="175.9" width="3.92" height="2.8" fill="#000" fill-opacity="0.35"/>
<path d="M350.73 173.1V175.9" stroke="#888" stroke-width="0.45" fill="none"/>
<text x="350.73" y="172.4" font-size="4.7" text-anchor="middle" fill="#2a2a2a" stroke="#2a2a2a" stroke-width="0.1">a</text>
<rect x="352.81" y="192" width="3.8" height="90.9" fill="#3a60a8"/>
<rect x="356.61" y="192" width="1" height="90.9" fill="#a8e4f4"/>
<rect x="353.49" y="192" width="3.92" height="1.4" fill="#000" fill-opacity="0.35"/>
<path d="M355.45 190.6V192" stroke="#888" stroke-width="0.45" fill="none"/>
<text x="355.45" y="189.9" font-size="4.7" text-anchor="middle" fill="#2a2a2a" stroke="#2a2a2a" stroke-width="0.1">e</text>
<rect x="365.38" y="167.3" width="0.7" height="115.6" fill="#e8dca0"/>
<rect x="366.08" y="167.3" width="2.8" height="115.6" fill="#a0a428"/>
<rect x="368.88" y="167.3" width="1.1" height="115.6" fill="#c0d070"/>
<rect x="365.78" y="167.3" width="3.92" height="0.9" fill="#000" fill-opacity="0.35"/>
<path d="M367.74 166.4V167.3" stroke="#888" stroke-width="0.45" fill="none"/>
<text x="367.74" y="165.7" font-size="4.7" text-anchor="middle" fill="#2a2a2a" stroke="#2a2a2a" stroke-width="0.1">d</text>
<rect x="369.98" y="167.3" width="4.1" height="115.6" fill="#6a7a30"/>
<rect x="374.08" y="167.3" width="0.74" height="115.6" fill="#b0b070"/>
<rect x="370.5" y="167.3" width="3.92" height="0.9" fill="#000" fill-opacity="0.35"/>
<path d="M372.46 166.4V167.3" stroke="#888" stroke-width="0.45" fill="none"/>
<text x="372.46" y="165.7" font-size="4.7" text-anchor="middle" fill="#2a2a2a" stroke="#2a2a2a" stroke-width="0.1">c</text>
<rect x="374.82" y="166.4" width="0.36" height="116.5" fill="#b0b070"/>
<rect x="375.18" y="166.4" width="2.6" height="116.5" fill="#9a4030"/>
<rect x="377.78" y="166.4" width="1.4" height="116.5" fill="#f0a0c8"/>
<rect x="375.22" y="166.4" width="3.92" height="1.4" fill="#000" fill-opacity="0.35"/>
<path d="M377.18 165V166.4" stroke="#888" stroke-width="0.45" fill="none"/>
<text x="377.18" y="164.3" font-size="4.7" text-anchor="middle" fill="#2a2a2a" stroke="#2a2a2a" stroke-width="0.1">b</text>
<rect x="379.18" y="166.4" width="3.7" height="116.5" fill="#c058c0"/>
<rect x="382.88" y="166.4" width="1.1" height="116.5" fill="#a0b0f0"/>
<rect x="379.94" y="166.4" width="3.92" height="1.4" fill="#000" fill-opacity="0.35"/>
<path d="M381.9 165V166.4" stroke="#888" stroke-width="0.45" fill="none"/>
<text x="381.9" y="164.3" font-size="4.7" text-anchor="middle" fill="#2a2a2a" stroke="#2a2a2a" stroke-width="0.1">a</text>
<rect x="383.98" y="168.2" width="3.8" height="114.7" fill="#3a60a8"/>
<rect x="387.78" y="168.2" width="1" height="114.7" fill="#a8e4f4"/>
<rect x="384.66" y="168.2" width="3.92" height="0.9" fill="#000" fill-opacity="0.35"/>
<path d="M386.62 167.3V168.2" stroke="#888" stroke-width="0.45" fill="none"/>
<text x="386.62" y="166.6" font-size="4.7" text-anchor="middle" fill="#2a2a2a" stroke="#2a2a2a" stroke-width="0.1">e</text>
<path d="M233.8 159.5V288.5H395.88" stroke="#333" stroke-width="0.9" fill="none"/>
<path d="M232.5 282.9H233.8" stroke="#333" stroke-width="0.5"/>
<text x="232.2" y="285.1" font-size="4.5" text-anchor="end" fill="#555" stroke="#555" stroke-width="0.1">0.0</text>
<path d="M232.5 255.02H233.8" stroke="#333" stroke-width="0.5"/>
<text x="232.2" y="257.22" font-size="4.5" text-anchor="end" fill="#555" stroke="#555" stroke-width="0.1">2.5</text>
<path d="M232.5 227.15H233.8" stroke="#333" stroke-width="0.5"/>
<text x="232.2" y="229.35" font-size="4.5" text-anchor="end" fill="#555" stroke="#555" stroke-width="0.1">5.0</text>
<path d="M232.5 199.27H233.8" stroke="#333" stroke-width="0.5"/>
<text x="232.2" y="201.47" font-size="4.5" text-anchor="end" fill="#555" stroke="#555" stroke-width="0.1">7.5</text>
<path d="M232.5 171.4H233.8" stroke="#333" stroke-width="0.5"/>
<text x="232.2" y="173.6" font-size="4.5" text-anchor="end" fill="#555" stroke="#555" stroke-width="0.1">10.0</text>
<path d="M252.5 288.5V289.8" stroke="#333" stroke-width="0.5"/>
<text x="252.5" y="292.9" font-size="4.5" text-anchor="middle" fill="#666" stroke="#666" stroke-width="0.08">7</text>
<path d="M283.67 288.5V289.8" stroke="#333" stroke-width="0.5"/>
<text x="283.67" y="292.9" font-size="4.5" text-anchor="middle" fill="#666" stroke="#666" stroke-width="0.08">14</text>
<path d="M314.84 288.5V289.8" stroke="#333" stroke-width="0.5"/>
<text x="314.84" y="292.9" font-size="4.5" text-anchor="middle" fill="#666" stroke="#666" stroke-width="0.08">21</text>
<path d="M346.01 288.5V289.8" stroke="#333" stroke-width="0.5"/>
<text x="346.01" y="292.9" font-size="4.5" text-anchor="middle" fill="#666" stroke="#666" stroke-width="0.08">28</text>
<path d="M377.18 288.5V289.8" stroke="#333" stroke-width="0.5"/>
<text x="377.18" y="292.9" font-size="4.5" text-anchor="middle" fill="#666" stroke="#666" stroke-width="0.08">35</text>
<text x="303.6" y="299.1" font-size="5.95" fill="#000">Time (d)</text>
<text transform="translate(220.8 223.8) rotate(-90)" x="-26.65" y="0" font-size="6.1" textLength="53.3" lengthAdjust="spacingAndGlyphs" fill="#000">Root tip length (cm)</text>
<text x="400.4" y="213.8" font-size="5.95" fill="#000" stroke="#000" stroke-width="0.05">Treatment</text>
<rect x="400.5" y="215.5" width="3.8" height="4.65" fill="#b2b030"/>
<text x="406.3" y="219.45" font-size="4.75" fill="#111" stroke="#111" stroke-width="0.1">15%</text>
<rect x="400.5" y="220.15" width="3.8" height="4.65" fill="#7a7c2c"/>
<text x="406.3" y="224.1" font-size="4.75" fill="#111" stroke="#111" stroke-width="0.1">30%</text>
<rect x="400.5" y="224.8" width="3.8" height="4.65" fill="#4a4a1a"/>
<text x="406.3" y="228.75" font-size="4.75" fill="#111" stroke="#111" stroke-width="0.1">45%</text>
<rect x="400.5" y="229.45" width="3.8" height="4.65" fill="#9585de"/>
<text x="406.3" y="233.4" font-size="4.75" fill="#111" stroke="#111" stroke-width="0.1">60%</text>
<rect x="400.5" y="234.1" width="3.8" height="4.65" fill="#4a40b0"/>
<text x="406.3" y="238.05" font-size="4.75" fill="#111" stroke="#111" stroke-width="0.1">ck</text>
<text x="321.2" y="313.4" font-size="8.2" font-weight="bold" text-anchor="middle" fill="#111" style="font-family:'Liberation Serif',serif">(d)</text>
</svg>
</body></html>
